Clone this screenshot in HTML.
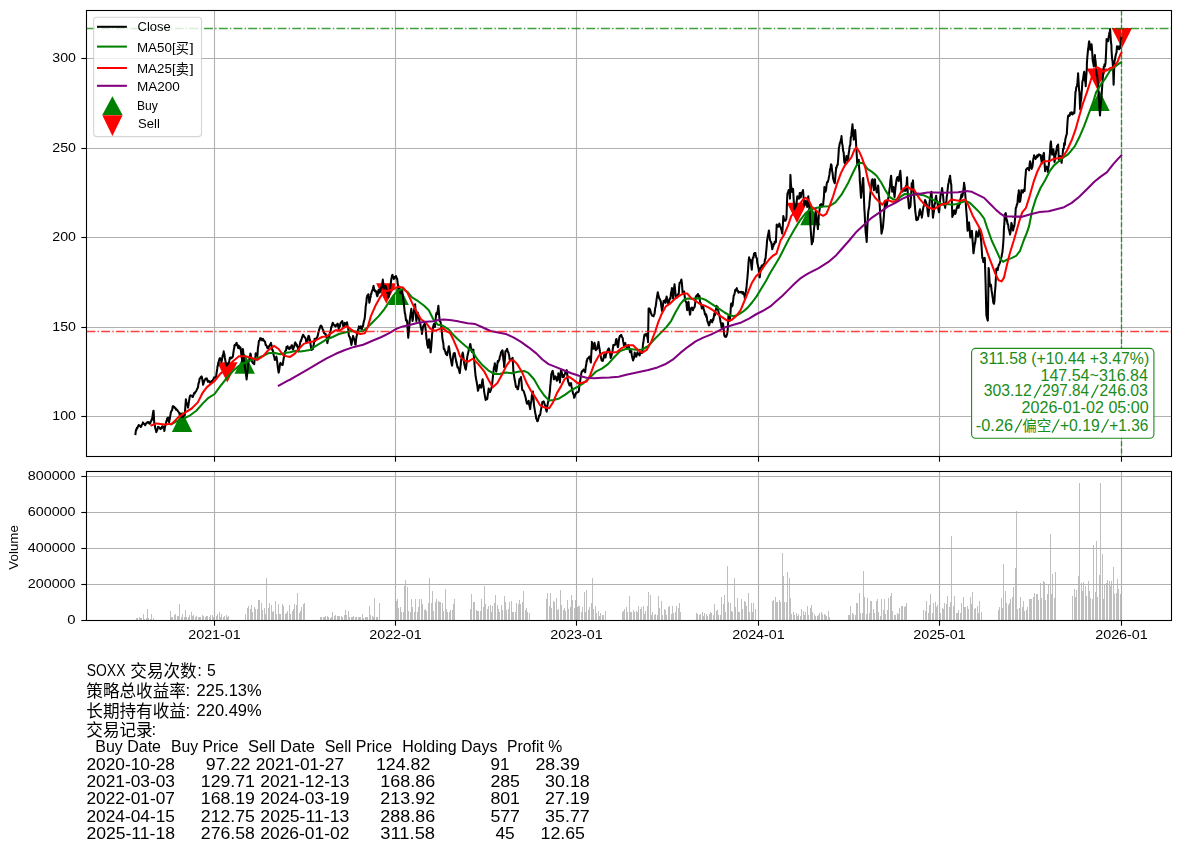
<!DOCTYPE html>
<html><head><meta charset="utf-8"><title>SOXX</title>
<style>html,body{margin:0;padding:0;background:#fff;}svg{display:block;}text{font-family:"Liberation Sans", sans-serif;}.k{filter:grayscale(1);}.cj{font-family:"Liberation Sans", "Noto Sans CJK SC", sans-serif;}</style></head><body>
<svg width="1180" height="852" viewBox="0 0 1180 852">
<rect width="1180" height="852" fill="#fff"/>
<g>
<path d="M182.1 411.6 L171.9 432.0 L192.3 432.0 Z" fill="#008000"/>
<path d="M244.7 353.4 L234.5 373.8 L254.9 373.8 Z" fill="#008000"/>
<path d="M398.7 284.5 L388.5 304.9 L408.9 304.9 Z" fill="#008000"/>
<path d="M810.4 204.8 L800.2 225.2 L820.6 225.2 Z" fill="#008000"/>
<path d="M1099.5 90.5 L1089.3 110.9 L1109.7 110.9 Z" fill="#008000"/>
<path d="M227.3 382.6 L217.1 362.2 L237.5 362.2 Z" fill="#ff0000"/>
<path d="M386.3 303.7 L376.1 283.3 L396.5 283.3 Z" fill="#ff0000"/>
<path d="M797.0 223.1 L786.8 202.7 L807.2 202.7 Z" fill="#ff0000"/>
<path d="M1097.0 88.9 L1086.8 68.5 L1107.2 68.5 Z" fill="#ff0000"/>
<path d="M1121.9 48.3 L1111.7 27.9 L1132.1 27.9 Z" fill="#ff0000"/>
</g>
<g fill="#bfbfbf" shape-rendering="crispEdges">
<rect x="136" y="618.1" width="1" height="2.4"/>
<rect x="137" y="618.4" width="1" height="2.1"/>
<rect x="139" y="617.4" width="1" height="3.1"/>
<rect x="140" y="618.4" width="1" height="2.1"/>
<rect x="141" y="617.7" width="1" height="2.8"/>
<rect x="143" y="613.5" width="1" height="7.0"/>
<rect x="144" y="618.5" width="1" height="2.0"/>
<rect x="146" y="617.7" width="1" height="2.8"/>
<rect x="147" y="608.5" width="1" height="12.0"/>
<rect x="148" y="617.9" width="1" height="2.6"/>
<rect x="150" y="618.5" width="1" height="2.0"/>
<rect x="151" y="613.5" width="1" height="7.0"/>
<rect x="153" y="617.9" width="1" height="2.6"/>
<rect x="170" y="610.5" width="1" height="10.0"/>
<rect x="171" y="617.3" width="1" height="3.2"/>
<rect x="172" y="617.0" width="1" height="3.5"/>
<rect x="174" y="615.4" width="1" height="5.1"/>
<rect x="175" y="613.8" width="1" height="6.7"/>
<rect x="177" y="615.6" width="1" height="4.9"/>
<rect x="178" y="616.4" width="1" height="4.1"/>
<rect x="179" y="603.5" width="1" height="17.0"/>
<rect x="181" y="617.4" width="1" height="3.1"/>
<rect x="182" y="614.3" width="1" height="6.2"/>
<rect x="184" y="616.8" width="1" height="3.7"/>
<rect x="185" y="609.5" width="1" height="11.0"/>
<rect x="186" y="617.3" width="1" height="3.2"/>
<rect x="188" y="616.7" width="1" height="3.8"/>
<rect x="189" y="614.5" width="1" height="6.0"/>
<rect x="191" y="611.5" width="1" height="9.0"/>
<rect x="192" y="615.6" width="1" height="4.9"/>
<rect x="193" y="615.4" width="1" height="5.1"/>
<rect x="195" y="616.5" width="1" height="4.0"/>
<rect x="196" y="615.8" width="1" height="4.7"/>
<rect x="198" y="617.4" width="1" height="3.1"/>
<rect x="199" y="617.4" width="1" height="3.1"/>
<rect x="200" y="617.1" width="1" height="3.4"/>
<rect x="202" y="615.2" width="1" height="5.3"/>
<rect x="203" y="616.3" width="1" height="4.2"/>
<rect x="205" y="616.7" width="1" height="3.8"/>
<rect x="206" y="615.6" width="1" height="4.9"/>
<rect x="207" y="616.2" width="1" height="4.3"/>
<rect x="209" y="616.8" width="1" height="3.7"/>
<rect x="210" y="614.6" width="1" height="5.9"/>
<rect x="212" y="615.1" width="1" height="5.4"/>
<rect x="213" y="616.9" width="1" height="3.6"/>
<rect x="214" y="615.7" width="1" height="4.8"/>
<rect x="216" y="615.9" width="1" height="4.6"/>
<rect x="217" y="614.2" width="1" height="6.3"/>
<rect x="219" y="612.1" width="1" height="8.4"/>
<rect x="220" y="616.8" width="1" height="3.7"/>
<rect x="221" y="613.6" width="1" height="6.9"/>
<rect x="223" y="617.3" width="1" height="3.2"/>
<rect x="224" y="616.3" width="1" height="4.2"/>
<rect x="226" y="614.8" width="1" height="5.7"/>
<rect x="227" y="617.2" width="1" height="3.3"/>
<rect x="228" y="616.0" width="1" height="4.5"/>
<rect x="245" y="614.4" width="1" height="6.1"/>
<rect x="247" y="607.7" width="1" height="12.8"/>
<rect x="248" y="606.3" width="1" height="14.2"/>
<rect x="250" y="609.0" width="1" height="11.5"/>
<rect x="251" y="604.5" width="1" height="16.0"/>
<rect x="252" y="612.1" width="1" height="8.4"/>
<rect x="254" y="607.3" width="1" height="13.2"/>
<rect x="255" y="608.7" width="1" height="11.8"/>
<rect x="257" y="608.9" width="1" height="11.6"/>
<rect x="258" y="600.0" width="1" height="20.5"/>
<rect x="259" y="600.0" width="1" height="20.5"/>
<rect x="261" y="603.4" width="1" height="17.1"/>
<rect x="262" y="610.3" width="1" height="10.2"/>
<rect x="264" y="607.7" width="1" height="12.8"/>
<rect x="265" y="614.3" width="1" height="6.2"/>
<rect x="266" y="578.0" width="1" height="42.5"/>
<rect x="268" y="608.0" width="1" height="12.5"/>
<rect x="269" y="602.6" width="1" height="17.9"/>
<rect x="271" y="605.4" width="1" height="15.1"/>
<rect x="272" y="612.4" width="1" height="8.1"/>
<rect x="273" y="611.3" width="1" height="9.2"/>
<rect x="275" y="600.9" width="1" height="19.6"/>
<rect x="276" y="614.4" width="1" height="6.1"/>
<rect x="278" y="603.5" width="1" height="17.0"/>
<rect x="279" y="613.5" width="1" height="7.0"/>
<rect x="280" y="613.9" width="1" height="6.6"/>
<rect x="282" y="603.5" width="1" height="17.0"/>
<rect x="283" y="606.2" width="1" height="14.3"/>
<rect x="285" y="613.8" width="1" height="6.7"/>
<rect x="286" y="612.8" width="1" height="7.7"/>
<rect x="287" y="611.3" width="1" height="9.2"/>
<rect x="289" y="604.6" width="1" height="15.9"/>
<rect x="290" y="614.1" width="1" height="6.4"/>
<rect x="292" y="610.6" width="1" height="9.9"/>
<rect x="293" y="609.3" width="1" height="11.2"/>
<rect x="294" y="604.4" width="1" height="16.1"/>
<rect x="296" y="605.4" width="1" height="15.1"/>
<rect x="297" y="593.1" width="1" height="27.4"/>
<rect x="299" y="612.5" width="1" height="8.0"/>
<rect x="300" y="611.0" width="1" height="9.5"/>
<rect x="301" y="607.1" width="1" height="13.4"/>
<rect x="303" y="604.4" width="1" height="16.1"/>
<rect x="304" y="603.2" width="1" height="17.3"/>
<rect x="320" y="617.3" width="1" height="3.2"/>
<rect x="321" y="617.2" width="1" height="3.3"/>
<rect x="323" y="617.1" width="1" height="3.4"/>
<rect x="324" y="617.1" width="1" height="3.4"/>
<rect x="325" y="616.4" width="1" height="4.1"/>
<rect x="327" y="616.1" width="1" height="4.4"/>
<rect x="328" y="617.0" width="1" height="3.5"/>
<rect x="330" y="617.5" width="1" height="3.0"/>
<rect x="331" y="616.6" width="1" height="3.9"/>
<rect x="332" y="612.1" width="1" height="8.4"/>
<rect x="334" y="616.1" width="1" height="4.4"/>
<rect x="335" y="614.7" width="1" height="5.8"/>
<rect x="337" y="615.7" width="1" height="4.8"/>
<rect x="338" y="616.3" width="1" height="4.2"/>
<rect x="339" y="616.0" width="1" height="4.5"/>
<rect x="341" y="615.8" width="1" height="4.7"/>
<rect x="342" y="617.4" width="1" height="3.1"/>
<rect x="344" y="614.9" width="1" height="5.6"/>
<rect x="345" y="609.5" width="1" height="11.0"/>
<rect x="346" y="615.0" width="1" height="5.5"/>
<rect x="348" y="610.5" width="1" height="10.0"/>
<rect x="349" y="616.7" width="1" height="3.8"/>
<rect x="351" y="616.7" width="1" height="3.8"/>
<rect x="352" y="617.4" width="1" height="3.1"/>
<rect x="353" y="615.9" width="1" height="4.6"/>
<rect x="355" y="617.4" width="1" height="3.1"/>
<rect x="356" y="617.4" width="1" height="3.1"/>
<rect x="358" y="617.2" width="1" height="3.3"/>
<rect x="359" y="617.3" width="1" height="3.2"/>
<rect x="360" y="616.8" width="1" height="3.7"/>
<rect x="362" y="613.5" width="1" height="7.0"/>
<rect x="363" y="617.5" width="1" height="3.0"/>
<rect x="365" y="617.3" width="1" height="3.2"/>
<rect x="366" y="617.4" width="1" height="3.1"/>
<rect x="367" y="616.8" width="1" height="3.7"/>
<rect x="369" y="606.0" width="1" height="14.5"/>
<rect x="370" y="615.0" width="1" height="5.5"/>
<rect x="372" y="616.0" width="1" height="4.5"/>
<rect x="373" y="617.3" width="1" height="3.2"/>
<rect x="374" y="598.1" width="1" height="22.4"/>
<rect x="376" y="616.8" width="1" height="3.7"/>
<rect x="377" y="616.8" width="1" height="3.7"/>
<rect x="379" y="603.2" width="1" height="17.3"/>
<rect x="396" y="601.4" width="1" height="19.1"/>
<rect x="397" y="598.6" width="1" height="21.9"/>
<rect x="398" y="607.7" width="1" height="12.8"/>
<rect x="400" y="607.4" width="1" height="13.1"/>
<rect x="401" y="612.0" width="1" height="8.5"/>
<rect x="403" y="611.9" width="1" height="8.6"/>
<rect x="404" y="585.5" width="1" height="35.0"/>
<rect x="405" y="579.5" width="1" height="41.0"/>
<rect x="407" y="587.0" width="1" height="33.5"/>
<rect x="408" y="611.4" width="1" height="9.1"/>
<rect x="410" y="612.4" width="1" height="8.1"/>
<rect x="411" y="599.1" width="1" height="21.4"/>
<rect x="412" y="606.8" width="1" height="13.7"/>
<rect x="414" y="611.5" width="1" height="9.0"/>
<rect x="415" y="599.1" width="1" height="21.4"/>
<rect x="417" y="612.4" width="1" height="8.1"/>
<rect x="418" y="606.8" width="1" height="13.7"/>
<rect x="419" y="598.9" width="1" height="21.6"/>
<rect x="421" y="599.1" width="1" height="21.4"/>
<rect x="422" y="604.1" width="1" height="16.4"/>
<rect x="424" y="610.4" width="1" height="10.1"/>
<rect x="425" y="609.1" width="1" height="11.4"/>
<rect x="426" y="611.4" width="1" height="9.1"/>
<rect x="428" y="602.8" width="1" height="17.7"/>
<rect x="429" y="577.5" width="1" height="43.0"/>
<rect x="431" y="602.6" width="1" height="17.9"/>
<rect x="432" y="591.0" width="1" height="29.5"/>
<rect x="433" y="610.8" width="1" height="9.7"/>
<rect x="435" y="602.0" width="1" height="18.5"/>
<rect x="436" y="598.8" width="1" height="21.7"/>
<rect x="438" y="601.3" width="1" height="19.2"/>
<rect x="439" y="602.1" width="1" height="18.4"/>
<rect x="440" y="601.9" width="1" height="18.6"/>
<rect x="442" y="603.3" width="1" height="17.2"/>
<rect x="443" y="610.7" width="1" height="9.8"/>
<rect x="445" y="588.5" width="1" height="32.0"/>
<rect x="446" y="609.2" width="1" height="11.3"/>
<rect x="447" y="612.4" width="1" height="8.1"/>
<rect x="449" y="612.4" width="1" height="8.1"/>
<rect x="450" y="610.2" width="1" height="10.3"/>
<rect x="452" y="610.4" width="1" height="10.1"/>
<rect x="453" y="604.1" width="1" height="16.4"/>
<rect x="454" y="599.3" width="1" height="21.2"/>
<rect x="470" y="608.9" width="1" height="11.6"/>
<rect x="471" y="593.5" width="1" height="27.0"/>
<rect x="473" y="601.7" width="1" height="18.8"/>
<rect x="474" y="602.2" width="1" height="18.3"/>
<rect x="476" y="609.8" width="1" height="10.7"/>
<rect x="477" y="611.2" width="1" height="9.3"/>
<rect x="478" y="611.1" width="1" height="9.4"/>
<rect x="480" y="611.4" width="1" height="9.1"/>
<rect x="481" y="599.1" width="1" height="21.4"/>
<rect x="483" y="606.8" width="1" height="13.7"/>
<rect x="484" y="586.0" width="1" height="34.5"/>
<rect x="485" y="603.9" width="1" height="16.6"/>
<rect x="487" y="608.6" width="1" height="11.9"/>
<rect x="488" y="606.4" width="1" height="14.1"/>
<rect x="490" y="604.5" width="1" height="16.0"/>
<rect x="491" y="612.2" width="1" height="8.3"/>
<rect x="492" y="606.3" width="1" height="14.2"/>
<rect x="494" y="602.9" width="1" height="17.6"/>
<rect x="495" y="594.5" width="1" height="26.0"/>
<rect x="497" y="605.1" width="1" height="15.4"/>
<rect x="498" y="608.6" width="1" height="11.9"/>
<rect x="499" y="611.5" width="1" height="9.0"/>
<rect x="501" y="604.6" width="1" height="15.9"/>
<rect x="502" y="610.1" width="1" height="10.4"/>
<rect x="504" y="595.5" width="1" height="25.0"/>
<rect x="505" y="601.9" width="1" height="18.6"/>
<rect x="506" y="609.5" width="1" height="11.0"/>
<rect x="508" y="609.4" width="1" height="11.1"/>
<rect x="509" y="602.3" width="1" height="18.2"/>
<rect x="511" y="600.9" width="1" height="19.6"/>
<rect x="512" y="611.6" width="1" height="8.9"/>
<rect x="513" y="611.9" width="1" height="8.6"/>
<rect x="515" y="611.7" width="1" height="8.8"/>
<rect x="516" y="602.9" width="1" height="17.6"/>
<rect x="518" y="604.4" width="1" height="16.1"/>
<rect x="519" y="600.0" width="1" height="20.5"/>
<rect x="520" y="604.1" width="1" height="16.4"/>
<rect x="522" y="601.8" width="1" height="18.7"/>
<rect x="523" y="591.0" width="1" height="29.5"/>
<rect x="525" y="610.0" width="1" height="10.5"/>
<rect x="526" y="607.8" width="1" height="12.7"/>
<rect x="527" y="611.9" width="1" height="8.6"/>
<rect x="529" y="612.5" width="1" height="8.0"/>
<rect x="546" y="599.0" width="1" height="21.5"/>
<rect x="547" y="593.1" width="1" height="27.4"/>
<rect x="549" y="606.2" width="1" height="14.3"/>
<rect x="550" y="593.1" width="1" height="27.4"/>
<rect x="551" y="607.5" width="1" height="13.0"/>
<rect x="553" y="600.8" width="1" height="19.7"/>
<rect x="554" y="601.5" width="1" height="19.0"/>
<rect x="556" y="598.1" width="1" height="22.4"/>
<rect x="557" y="609.6" width="1" height="10.9"/>
<rect x="558" y="609.2" width="1" height="11.3"/>
<rect x="560" y="590.1" width="1" height="30.4"/>
<rect x="561" y="605.3" width="1" height="15.2"/>
<rect x="563" y="609.5" width="1" height="11.0"/>
<rect x="564" y="607.7" width="1" height="12.8"/>
<rect x="565" y="610.7" width="1" height="9.8"/>
<rect x="567" y="600.1" width="1" height="20.4"/>
<rect x="568" y="608.5" width="1" height="12.0"/>
<rect x="570" y="607.1" width="1" height="13.4"/>
<rect x="571" y="595.0" width="1" height="25.5"/>
<rect x="572" y="600.2" width="1" height="20.3"/>
<rect x="574" y="607.6" width="1" height="12.9"/>
<rect x="575" y="600.0" width="1" height="20.5"/>
<rect x="577" y="606.6" width="1" height="13.9"/>
<rect x="578" y="606.1" width="1" height="14.4"/>
<rect x="579" y="606.2" width="1" height="14.3"/>
<rect x="581" y="611.5" width="1" height="9.0"/>
<rect x="582" y="607.4" width="1" height="13.1"/>
<rect x="584" y="592.0" width="1" height="28.5"/>
<rect x="585" y="611.5" width="1" height="9.0"/>
<rect x="586" y="590.1" width="1" height="30.4"/>
<rect x="588" y="610.4" width="1" height="10.1"/>
<rect x="589" y="606.9" width="1" height="13.6"/>
<rect x="591" y="603.2" width="1" height="17.3"/>
<rect x="592" y="578.0" width="1" height="42.5"/>
<rect x="593" y="608.8" width="1" height="11.7"/>
<rect x="595" y="606.3" width="1" height="14.2"/>
<rect x="596" y="613.0" width="1" height="7.5"/>
<rect x="598" y="610.8" width="1" height="9.7"/>
<rect x="599" y="616.2" width="1" height="4.3"/>
<rect x="600" y="612.9" width="1" height="7.6"/>
<rect x="602" y="615.4" width="1" height="5.1"/>
<rect x="603" y="615.2" width="1" height="5.3"/>
<rect x="605" y="610.9" width="1" height="9.6"/>
<rect x="622" y="611.6" width="1" height="8.9"/>
<rect x="623" y="611.0" width="1" height="9.5"/>
<rect x="624" y="608.7" width="1" height="11.8"/>
<rect x="626" y="606.7" width="1" height="13.8"/>
<rect x="627" y="612.3" width="1" height="8.2"/>
<rect x="629" y="596.3" width="1" height="24.2"/>
<rect x="630" y="611.7" width="1" height="8.8"/>
<rect x="631" y="611.6" width="1" height="8.9"/>
<rect x="633" y="609.5" width="1" height="11.0"/>
<rect x="634" y="612.2" width="1" height="8.3"/>
<rect x="636" y="611.4" width="1" height="9.1"/>
<rect x="637" y="611.9" width="1" height="8.6"/>
<rect x="638" y="606.3" width="1" height="14.2"/>
<rect x="640" y="609.4" width="1" height="11.1"/>
<rect x="641" y="607.2" width="1" height="13.3"/>
<rect x="643" y="606.3" width="1" height="14.2"/>
<rect x="644" y="614.0" width="1" height="6.5"/>
<rect x="645" y="611.1" width="1" height="9.4"/>
<rect x="647" y="606.3" width="1" height="14.2"/>
<rect x="648" y="592.2" width="1" height="28.3"/>
<rect x="650" y="594.5" width="1" height="26.0"/>
<rect x="651" y="615.0" width="1" height="5.5"/>
<rect x="652" y="612.3" width="1" height="8.2"/>
<rect x="654" y="615.2" width="1" height="5.3"/>
<rect x="655" y="614.1" width="1" height="6.4"/>
<rect x="657" y="615.2" width="1" height="5.3"/>
<rect x="658" y="595.5" width="1" height="25.0"/>
<rect x="659" y="608.4" width="1" height="12.1"/>
<rect x="661" y="600.5" width="1" height="20.0"/>
<rect x="662" y="614.8" width="1" height="5.7"/>
<rect x="664" y="609.2" width="1" height="11.3"/>
<rect x="665" y="609.9" width="1" height="10.6"/>
<rect x="666" y="614.8" width="1" height="5.7"/>
<rect x="668" y="607.1" width="1" height="13.4"/>
<rect x="669" y="606.0" width="1" height="14.5"/>
<rect x="671" y="614.3" width="1" height="6.2"/>
<rect x="672" y="606.2" width="1" height="14.3"/>
<rect x="673" y="612.7" width="1" height="7.8"/>
<rect x="675" y="611.8" width="1" height="8.7"/>
<rect x="676" y="605.6" width="1" height="14.9"/>
<rect x="678" y="607.8" width="1" height="12.7"/>
<rect x="679" y="602.5" width="1" height="18.0"/>
<rect x="680" y="612.4" width="1" height="8.1"/>
<rect x="696" y="613.1" width="1" height="7.4"/>
<rect x="697" y="614.2" width="1" height="6.3"/>
<rect x="699" y="614.9" width="1" height="5.6"/>
<rect x="700" y="614.3" width="1" height="6.2"/>
<rect x="702" y="611.7" width="1" height="8.8"/>
<rect x="703" y="615.5" width="1" height="5.0"/>
<rect x="704" y="612.9" width="1" height="7.6"/>
<rect x="706" y="613.6" width="1" height="6.9"/>
<rect x="707" y="615.5" width="1" height="5.0"/>
<rect x="709" y="614.2" width="1" height="6.3"/>
<rect x="710" y="612.4" width="1" height="8.1"/>
<rect x="711" y="613.1" width="1" height="7.4"/>
<rect x="713" y="615.4" width="1" height="5.1"/>
<rect x="714" y="603.5" width="1" height="17.0"/>
<rect x="716" y="611.2" width="1" height="9.3"/>
<rect x="717" y="609.7" width="1" height="10.8"/>
<rect x="718" y="615.2" width="1" height="5.3"/>
<rect x="720" y="614.6" width="1" height="5.9"/>
<rect x="721" y="597.2" width="1" height="23.3"/>
<rect x="723" y="604.0" width="1" height="16.5"/>
<rect x="724" y="594.5" width="1" height="26.0"/>
<rect x="725" y="611.8" width="1" height="8.7"/>
<rect x="727" y="565.5" width="1" height="55.0"/>
<rect x="728" y="602.0" width="1" height="18.5"/>
<rect x="730" y="603.4" width="1" height="17.1"/>
<rect x="731" y="610.7" width="1" height="9.8"/>
<rect x="732" y="611.7" width="1" height="8.8"/>
<rect x="734" y="578.0" width="1" height="42.5"/>
<rect x="735" y="607.0" width="1" height="13.5"/>
<rect x="737" y="598.1" width="1" height="22.4"/>
<rect x="738" y="612.1" width="1" height="8.4"/>
<rect x="739" y="612.3" width="1" height="8.2"/>
<rect x="741" y="599.1" width="1" height="21.4"/>
<rect x="742" y="608.9" width="1" height="11.6"/>
<rect x="744" y="600.9" width="1" height="19.6"/>
<rect x="745" y="601.5" width="1" height="19.0"/>
<rect x="746" y="606.2" width="1" height="14.3"/>
<rect x="748" y="593.1" width="1" height="27.4"/>
<rect x="749" y="612.1" width="1" height="8.4"/>
<rect x="751" y="602.8" width="1" height="17.7"/>
<rect x="752" y="612.2" width="1" height="8.3"/>
<rect x="753" y="602.7" width="1" height="17.8"/>
<rect x="755" y="608.5" width="1" height="12.0"/>
<rect x="772" y="601.2" width="1" height="19.3"/>
<rect x="773" y="599.9" width="1" height="20.6"/>
<rect x="775" y="597.1" width="1" height="23.4"/>
<rect x="776" y="601.6" width="1" height="18.9"/>
<rect x="777" y="602.2" width="1" height="18.3"/>
<rect x="779" y="600.1" width="1" height="20.4"/>
<rect x="780" y="601.7" width="1" height="18.8"/>
<rect x="782" y="552.5" width="1" height="68.0"/>
<rect x="783" y="575.8" width="1" height="44.7"/>
<rect x="784" y="602.4" width="1" height="18.1"/>
<rect x="786" y="601.9" width="1" height="18.6"/>
<rect x="787" y="572.0" width="1" height="48.5"/>
<rect x="789" y="577.5" width="1" height="43.0"/>
<rect x="790" y="598.4" width="1" height="22.1"/>
<rect x="791" y="613.7" width="1" height="6.8"/>
<rect x="793" y="611.7" width="1" height="8.8"/>
<rect x="794" y="614.6" width="1" height="5.9"/>
<rect x="796" y="613.2" width="1" height="7.3"/>
<rect x="797" y="615.5" width="1" height="5.0"/>
<rect x="798" y="614.1" width="1" height="6.4"/>
<rect x="800" y="615.5" width="1" height="5.0"/>
<rect x="801" y="609.0" width="1" height="11.5"/>
<rect x="803" y="611.2" width="1" height="9.3"/>
<rect x="804" y="614.5" width="1" height="6.0"/>
<rect x="805" y="612.0" width="1" height="8.5"/>
<rect x="807" y="606.4" width="1" height="14.1"/>
<rect x="808" y="615.1" width="1" height="5.4"/>
<rect x="810" y="607.9" width="1" height="12.6"/>
<rect x="811" y="604.5" width="1" height="16.0"/>
<rect x="812" y="611.8" width="1" height="8.7"/>
<rect x="814" y="613.6" width="1" height="6.9"/>
<rect x="815" y="616.1" width="1" height="4.4"/>
<rect x="817" y="615.6" width="1" height="4.9"/>
<rect x="818" y="614.5" width="1" height="6.0"/>
<rect x="819" y="612.6" width="1" height="7.9"/>
<rect x="821" y="611.5" width="1" height="9.0"/>
<rect x="822" y="613.6" width="1" height="6.9"/>
<rect x="824" y="614.4" width="1" height="6.1"/>
<rect x="825" y="614.8" width="1" height="5.7"/>
<rect x="826" y="616.1" width="1" height="4.4"/>
<rect x="828" y="610.5" width="1" height="10.0"/>
<rect x="829" y="617.4" width="1" height="3.1"/>
<rect x="848" y="614.6" width="1" height="5.9"/>
<rect x="849" y="615.1" width="1" height="5.4"/>
<rect x="850" y="605.6" width="1" height="14.9"/>
<rect x="852" y="613.3" width="1" height="7.2"/>
<rect x="853" y="614.3" width="1" height="6.2"/>
<rect x="855" y="615.0" width="1" height="5.5"/>
<rect x="856" y="603.2" width="1" height="17.3"/>
<rect x="857" y="603.1" width="1" height="17.4"/>
<rect x="859" y="593.1" width="1" height="27.4"/>
<rect x="860" y="613.0" width="1" height="7.5"/>
<rect x="862" y="613.4" width="1" height="7.1"/>
<rect x="863" y="571.1" width="1" height="49.4"/>
<rect x="864" y="597.2" width="1" height="23.3"/>
<rect x="866" y="614.4" width="1" height="6.1"/>
<rect x="867" y="598.1" width="1" height="22.4"/>
<rect x="869" y="613.2" width="1" height="7.3"/>
<rect x="870" y="601.3" width="1" height="19.2"/>
<rect x="871" y="601.1" width="1" height="19.4"/>
<rect x="873" y="609.1" width="1" height="11.4"/>
<rect x="874" y="613.4" width="1" height="7.1"/>
<rect x="876" y="601.2" width="1" height="19.3"/>
<rect x="877" y="599.1" width="1" height="21.4"/>
<rect x="878" y="612.0" width="1" height="8.5"/>
<rect x="880" y="615.5" width="1" height="5.0"/>
<rect x="881" y="599.1" width="1" height="21.4"/>
<rect x="883" y="610.2" width="1" height="10.3"/>
<rect x="884" y="599.1" width="1" height="21.4"/>
<rect x="885" y="613.9" width="1" height="6.6"/>
<rect x="887" y="609.7" width="1" height="10.8"/>
<rect x="888" y="598.1" width="1" height="22.4"/>
<rect x="890" y="595.5" width="1" height="25.0"/>
<rect x="891" y="593.1" width="1" height="27.4"/>
<rect x="892" y="611.3" width="1" height="9.2"/>
<rect x="894" y="615.3" width="1" height="5.2"/>
<rect x="895" y="615.4" width="1" height="5.1"/>
<rect x="897" y="612.7" width="1" height="7.8"/>
<rect x="898" y="613.6" width="1" height="6.9"/>
<rect x="899" y="608.4" width="1" height="12.1"/>
<rect x="901" y="606.1" width="1" height="14.4"/>
<rect x="902" y="605.5" width="1" height="15.0"/>
<rect x="904" y="607.2" width="1" height="13.3"/>
<rect x="905" y="606.1" width="1" height="14.4"/>
<rect x="906" y="603.0" width="1" height="17.5"/>
<rect x="923" y="610.0" width="1" height="10.5"/>
<rect x="925" y="610.8" width="1" height="9.7"/>
<rect x="926" y="600.8" width="1" height="19.7"/>
<rect x="928" y="612.6" width="1" height="7.9"/>
<rect x="929" y="605.2" width="1" height="15.3"/>
<rect x="930" y="593.5" width="1" height="27.0"/>
<rect x="932" y="613.3" width="1" height="7.2"/>
<rect x="933" y="603.4" width="1" height="17.1"/>
<rect x="935" y="602.4" width="1" height="18.1"/>
<rect x="936" y="606.7" width="1" height="13.8"/>
<rect x="937" y="605.1" width="1" height="15.4"/>
<rect x="939" y="603.8" width="1" height="16.7"/>
<rect x="940" y="612.7" width="1" height="7.8"/>
<rect x="942" y="608.2" width="1" height="12.3"/>
<rect x="943" y="608.5" width="1" height="12.0"/>
<rect x="944" y="603.4" width="1" height="17.1"/>
<rect x="946" y="603.9" width="1" height="16.6"/>
<rect x="947" y="595.5" width="1" height="25.0"/>
<rect x="949" y="607.4" width="1" height="13.1"/>
<rect x="950" y="602.4" width="1" height="18.1"/>
<rect x="951" y="535.5" width="1" height="85.0"/>
<rect x="953" y="605.7" width="1" height="14.8"/>
<rect x="954" y="595.5" width="1" height="25.0"/>
<rect x="956" y="613.4" width="1" height="7.1"/>
<rect x="957" y="612.7" width="1" height="7.8"/>
<rect x="958" y="610.4" width="1" height="10.1"/>
<rect x="960" y="612.9" width="1" height="7.6"/>
<rect x="961" y="603.4" width="1" height="17.1"/>
<rect x="963" y="596.8" width="1" height="23.7"/>
<rect x="964" y="606.7" width="1" height="13.8"/>
<rect x="965" y="606.7" width="1" height="13.8"/>
<rect x="967" y="605.9" width="1" height="14.6"/>
<rect x="968" y="608.7" width="1" height="11.8"/>
<rect x="970" y="596.8" width="1" height="23.7"/>
<rect x="971" y="604.0" width="1" height="16.5"/>
<rect x="972" y="591.5" width="1" height="29.0"/>
<rect x="974" y="608.5" width="1" height="12.0"/>
<rect x="975" y="608.1" width="1" height="12.4"/>
<rect x="977" y="606.2" width="1" height="14.3"/>
<rect x="978" y="613.2" width="1" height="7.3"/>
<rect x="979" y="600.5" width="1" height="20.0"/>
<rect x="981" y="611.6" width="1" height="8.9"/>
<rect x="998" y="610.0" width="1" height="10.5"/>
<rect x="999" y="607.4" width="1" height="13.1"/>
<rect x="1001" y="597.6" width="1" height="22.9"/>
<rect x="1002" y="608.3" width="1" height="12.2"/>
<rect x="1003" y="563.5" width="1" height="57.0"/>
<rect x="1005" y="591.2" width="1" height="29.3"/>
<rect x="1006" y="603.0" width="1" height="17.5"/>
<rect x="1008" y="605.3" width="1" height="15.2"/>
<rect x="1009" y="603.4" width="1" height="17.1"/>
<rect x="1010" y="598.8" width="1" height="21.7"/>
<rect x="1012" y="596.7" width="1" height="23.8"/>
<rect x="1013" y="586.8" width="1" height="33.7"/>
<rect x="1015" y="567.5" width="1" height="53.0"/>
<rect x="1016" y="510.5" width="1" height="110.0"/>
<rect x="1017" y="609.1" width="1" height="11.4"/>
<rect x="1019" y="607.6" width="1" height="12.9"/>
<rect x="1020" y="597.3" width="1" height="23.2"/>
<rect x="1022" y="606.7" width="1" height="13.8"/>
<rect x="1023" y="601.4" width="1" height="19.1"/>
<rect x="1024" y="610.5" width="1" height="10.0"/>
<rect x="1026" y="610.1" width="1" height="10.4"/>
<rect x="1027" y="607.3" width="1" height="13.2"/>
<rect x="1029" y="599.0" width="1" height="21.5"/>
<rect x="1030" y="598.6" width="1" height="21.9"/>
<rect x="1031" y="598.9" width="1" height="21.6"/>
<rect x="1033" y="597.0" width="1" height="23.5"/>
<rect x="1034" y="592.6" width="1" height="27.9"/>
<rect x="1036" y="593.7" width="1" height="26.8"/>
<rect x="1037" y="593.6" width="1" height="26.9"/>
<rect x="1038" y="599.5" width="1" height="21.0"/>
<rect x="1040" y="582.5" width="1" height="38.0"/>
<rect x="1041" y="598.4" width="1" height="22.1"/>
<rect x="1043" y="581.1" width="1" height="39.4"/>
<rect x="1044" y="582.3" width="1" height="38.2"/>
<rect x="1045" y="600.4" width="1" height="20.1"/>
<rect x="1047" y="593.8" width="1" height="26.7"/>
<rect x="1048" y="585.4" width="1" height="35.1"/>
<rect x="1050" y="533.5" width="1" height="87.0"/>
<rect x="1051" y="594.0" width="1" height="26.5"/>
<rect x="1052" y="573.8" width="1" height="46.7"/>
<rect x="1054" y="598.3" width="1" height="22.2"/>
<rect x="1055" y="571.5" width="1" height="49.0"/>
<rect x="1072" y="596.2" width="1" height="24.3"/>
<rect x="1074" y="589.1" width="1" height="31.4"/>
<rect x="1075" y="597.2" width="1" height="23.3"/>
<rect x="1076" y="590.4" width="1" height="30.1"/>
<rect x="1078" y="575.5" width="1" height="45.0"/>
<rect x="1079" y="482.5" width="1" height="138.0"/>
<rect x="1081" y="583.3" width="1" height="37.2"/>
<rect x="1082" y="590.7" width="1" height="29.8"/>
<rect x="1083" y="581.6" width="1" height="38.9"/>
<rect x="1085" y="586.3" width="1" height="34.2"/>
<rect x="1086" y="595.9" width="1" height="24.6"/>
<rect x="1088" y="581.3" width="1" height="39.2"/>
<rect x="1089" y="591.2" width="1" height="29.3"/>
<rect x="1090" y="598.4" width="1" height="22.1"/>
<rect x="1092" y="598.5" width="1" height="22.0"/>
<rect x="1093" y="544.5" width="1" height="76.0"/>
<rect x="1095" y="591.9" width="1" height="28.6"/>
<rect x="1096" y="540.5" width="1" height="80.0"/>
<rect x="1097" y="597.2" width="1" height="23.3"/>
<rect x="1099" y="574.5" width="1" height="46.0"/>
<rect x="1100" y="482.5" width="1" height="138.0"/>
<rect x="1102" y="553.5" width="1" height="67.0"/>
<rect x="1103" y="598.5" width="1" height="22.0"/>
<rect x="1104" y="585.1" width="1" height="35.4"/>
<rect x="1106" y="582.9" width="1" height="37.6"/>
<rect x="1107" y="579.5" width="1" height="41.0"/>
<rect x="1109" y="580.5" width="1" height="40.0"/>
<rect x="1110" y="586.0" width="1" height="34.5"/>
<rect x="1111" y="581.2" width="1" height="39.3"/>
<rect x="1113" y="566.5" width="1" height="54.0"/>
<rect x="1114" y="593.5" width="1" height="27.0"/>
<rect x="1116" y="593.1" width="1" height="27.4"/>
<rect x="1117" y="578.5" width="1" height="42.0"/>
<rect x="1118" y="589.0" width="1" height="31.5"/>
<rect x="1120" y="593.7" width="1" height="26.8"/>
<rect x="1121" y="592.4" width="1" height="28.1"/>
</g>
<g stroke="#b0b0b0" stroke-width="1.1" fill="none">
<path d="M214.5 10.5 V456.5"/>
<path d="M214.5 471.5 V620.5"/>
<path d="M395.5 10.5 V456.5"/>
<path d="M395.5 471.5 V620.5"/>
<path d="M576.5 10.5 V456.5"/>
<path d="M576.5 471.5 V620.5"/>
<path d="M758.5 10.5 V456.5"/>
<path d="M758.5 471.5 V620.5"/>
<path d="M939.5 10.5 V456.5"/>
<path d="M939.5 471.5 V620.5"/>
<path d="M1121.5 10.5 V456.5"/>
<path d="M1121.5 471.5 V620.5"/>
<path d="M86.5 416.5 H1171.5"/>
<path d="M86.5 327.5 H1171.5"/>
<path d="M86.5 237.5 H1171.5"/>
<path d="M86.5 148.5 H1171.5"/>
<path d="M86.5 58.5 H1171.5"/>
<path d="M86.5 584.5 H1171.5"/>
<path d="M86.5 548.5 H1171.5"/>
<path d="M86.5 512.5 H1171.5"/>
<path d="M86.5 476.5 H1171.5"/>
</g>
<g fill="none" stroke-width="2.05" stroke-linejoin="round" stroke-linecap="butt">
<path d="M135.3 435.2 L135.8 431.4 L136.0 429.8 L136.4 430.0 L136.9 427.7 L137.5 427.9 L138.0 426.2 L138.6 425.2 L139.1 425.7 L139.7 425.5 L140.2 426.2 L140.6 426.8 L140.8 427.0 L141.3 426.3 L141.9 424.7 L142.4 424.1 L142.9 423.0 L143.0 422.4 L143.5 423.4 L144.1 423.9 L144.6 423.9 L145.2 425.3 L145.7 423.5 L146.3 423.7 L146.8 423.0 L147.4 422.1 L147.5 422.2 L147.9 422.5 L148.5 422.0 L149.0 423.2 L149.6 423.7 L149.7 423.7 L150.1 423.6 L150.7 421.7 L151.2 421.0 L151.8 419.1 L152.0 419.9 L152.3 418.0 L152.9 413.6 L153.4 410.8 L153.6 410.8 L154.0 418.2 L154.3 423.7 L154.5 423.1 L155.1 427.3 L155.6 429.4 L156.2 431.3 L156.3 432.1 L156.7 431.2 L157.3 429.7 L157.8 428.4 L158.1 426.8 L158.4 426.9 L158.9 427.2 L159.5 427.7 L160.0 428.1 L160.4 429.1 L160.6 428.9 L161.1 427.9 L161.7 428.5 L162.2 426.2 L162.8 426.2 L163.3 427.3 L163.9 427.6 L164.4 431.0 L164.5 430.1 L165.0 426.7 L165.5 425.4 L166.1 422.6 L166.5 420.7 L166.6 421.6 L167.2 418.2 L167.7 419.0 L168.1 417.6 L168.3 418.0 L168.8 420.8 L169.1 422.2 L169.4 420.5 L169.9 418.4 L170.5 414.3 L171.0 412.0 L171.1 411.5 L171.6 410.7 L172.1 410.4 L172.7 406.3 L173.2 407.6 L173.4 406.2 L173.8 407.2 L174.3 406.8 L174.9 407.9 L175.4 407.9 L176.0 409.8 L176.4 409.2 L176.5 409.5 L177.1 409.9 L177.6 410.6 L178.2 411.4 L178.7 412.3 L179.3 412.8 L179.8 415.8 L180.3 415.3 L180.4 414.2 L180.9 413.7 L181.5 416.5 L182.0 417.0 L182.6 417.8 L183.1 416.7 L183.7 416.1 L184.2 415.6 L184.8 415.3 L184.8 414.6 L185.3 407.5 L185.9 399.3 L186.4 402.6 L187.0 403.7 L187.5 404.8 L187.9 406.9 L188.1 407.6 L188.6 403.9 L189.2 400.2 L189.7 397.0 L190.2 395.5 L190.3 395.8 L190.8 395.4 L191.4 395.6 L191.9 395.8 L192.5 397.0 L193.0 396.8 L193.6 394.8 L194.1 393.1 L194.7 393.5 L195.2 392.1 L195.8 391.7 L196.3 391.0 L196.9 389.2 L197.4 388.4 L197.8 387.9 L198.0 387.1 L198.5 383.5 L199.1 382.1 L199.6 378.7 L200.2 378.2 L200.7 377.3 L201.3 376.7 L201.6 376.4 L201.8 376.9 L202.4 380.0 L202.9 383.3 L203.1 384.8 L203.5 383.4 L204.0 382.2 L204.6 379.9 L205.1 379.8 L205.4 378.7 L205.7 379.0 L206.2 378.7 L206.8 378.4 L207.3 380.6 L207.7 381.0 L207.9 381.9 L208.4 380.8 L209.0 381.3 L209.5 381.5 L210.1 382.7 L210.6 381.8 L210.8 382.5 L211.2 382.8 L211.7 381.1 L212.3 381.3 L212.8 380.0 L213.4 379.1 L213.8 378.7 L213.9 377.6 L214.5 377.6 L215.0 377.3 L215.6 377.5 L216.1 376.6 L216.7 372.1 L217.2 369.0 L217.6 365.8 L217.8 366.0 L218.3 363.2 L218.9 360.9 L219.4 358.9 L220.0 358.1 L220.5 359.6 L221.1 360.1 L221.4 361.9 L221.6 361.5 L222.2 358.2 L222.7 355.5 L223.3 354.5 L223.7 351.3 L223.8 352.3 L224.4 354.3 L224.9 358.0 L225.5 361.4 L226.0 364.2 L226.6 364.7 L227.1 365.8 L227.5 365.8 L227.7 364.1 L228.2 364.0 L228.8 362.7 L229.3 360.9 L229.9 357.8 L230.4 358.7 L231.0 357.4 L231.5 358.1 L232.1 357.7 L232.6 357.0 L232.9 356.6 L233.2 354.1 L233.7 350.4 L234.3 347.7 L234.4 345.9 L234.8 344.7 L235.4 345.1 L235.9 344.3 L236.5 343.0 L236.7 342.9 L237.0 345.5 L237.6 344.9 L238.1 347.9 L238.7 345.8 L239.0 348.2 L239.2 346.3 L239.8 348.6 L240.3 348.1 L240.5 347.5 L240.9 350.3 L241.4 355.5 L242.0 359.0 L242.0 361.2 L242.5 353.2 L242.8 349.0 L243.1 350.5 L243.6 356.1 L244.2 361.9 L244.3 362.7 L244.7 365.6 L245.3 369.8 L245.8 373.1 L246.4 377.3 L246.6 379.5 L246.9 376.6 L247.5 370.8 L248.0 366.5 L248.1 364.2 L248.6 361.6 L249.1 361.2 L249.7 356.4 L250.2 355.4 L250.4 353.6 L250.8 354.6 L251.3 359.2 L251.9 360.8 L251.9 361.2 L252.4 362.1 L253.0 363.1 L253.5 362.8 L254.1 363.2 L254.2 364.2 L254.6 360.1 L255.2 358.8 L255.7 353.4 L255.8 353.6 L256.3 353.6 L256.8 354.6 L257.3 355.1 L257.4 356.0 L257.9 348.2 L258.5 344.8 L258.8 341.4 L259.0 340.8 L259.6 340.8 L260.1 338.2 L260.7 338.6 L261.1 338.3 L261.2 339.1 L261.8 340.0 L262.3 340.4 L262.9 338.8 L263.4 339.9 L264.0 340.9 L264.5 340.9 L265.1 342.0 L265.6 344.9 L265.7 344.4 L266.2 345.4 L266.7 346.0 L267.3 348.0 L267.8 347.2 L268.0 348.2 L268.4 348.0 L268.9 346.6 L269.5 345.6 L270.0 345.0 L270.6 343.8 L271.0 342.9 L271.1 343.5 L271.7 346.0 L272.2 349.8 L272.5 349.7 L272.8 350.4 L273.3 353.8 L273.9 355.9 L274.4 357.5 L274.8 359.7 L275.0 360.0 L275.5 357.7 L276.1 358.1 L276.4 356.6 L276.6 357.7 L277.2 361.8 L277.7 366.3 L278.3 370.5 L278.6 372.6 L278.8 372.3 L279.4 369.0 L279.9 364.9 L280.2 363.5 L280.5 362.9 L281.0 364.4 L281.6 364.6 L282.1 364.0 L282.5 365.0 L282.7 364.8 L283.2 361.4 L283.8 357.8 L284.3 356.1 L284.7 353.6 L284.9 352.2 L285.4 350.9 L286.0 350.3 L286.5 347.0 L287.1 346.7 L287.6 346.2 L288.2 348.4 L288.7 347.8 L289.3 349.1 L289.3 349.0 L289.8 347.4 L290.0 348.5 L290.4 347.5 L290.9 347.4 L291.5 345.9 L291.5 345.4 L292.0 345.2 L292.6 348.7 L293.1 349.2 L293.1 349.8 L293.7 347.1 L294.2 346.9 L294.8 343.3 L295.3 342.4 L295.9 344.0 L296.4 345.0 L296.9 344.7 L297.0 346.1 L297.5 346.7 L298.1 348.6 L298.4 351.5 L298.6 350.8 L299.2 346.8 L299.7 345.3 L300.3 341.8 L300.7 340.8 L300.8 341.4 L301.4 339.7 L301.9 338.0 L302.5 336.1 L303.0 334.8 L303.6 335.3 L304.1 336.6 L304.7 337.2 L305.3 337.8 L305.8 338.9 L306.3 342.5 L306.8 342.4 L306.9 342.3 L307.4 341.0 L308.0 338.8 L308.3 336.3 L308.5 335.9 L309.1 336.4 L309.6 339.9 L309.8 339.3 L310.2 341.3 L310.7 345.5 L311.3 349.1 L311.4 350.0 L311.8 349.9 L312.4 348.6 L312.9 349.0 L313.5 345.7 L314.0 343.0 L314.4 340.8 L314.6 338.9 L315.1 341.1 L315.7 340.3 L316.2 338.2 L316.7 339.3 L316.8 338.5 L317.3 336.9 L317.9 335.2 L318.4 332.5 L319.0 330.2 L319.5 329.0 L320.1 326.9 L320.6 325.9 L321.0 325.6 L321.2 326.5 L321.7 326.3 L322.3 328.4 L322.8 329.5 L323.4 330.8 L323.9 332.8 L324.3 333.2 L324.5 333.2 L325.0 333.9 L325.6 334.0 L325.8 334.7 L326.1 335.7 L326.7 337.9 L327.2 341.8 L327.4 343.1 L327.8 340.8 L328.3 338.4 L328.9 337.6 L329.4 335.7 L330.0 332.5 L330.5 331.4 L331.1 328.5 L331.2 327.1 L331.6 327.1 L332.2 324.6 L332.7 322.7 L333.0 323.3 L333.3 324.1 L333.8 324.5 L334.4 325.5 L334.9 325.8 L335.0 325.6 L335.5 326.5 L336.0 325.0 L336.6 325.6 L337.1 324.1 L337.3 324.8 L337.7 323.6 L338.2 326.3 L338.8 329.0 L338.8 327.9 L339.3 325.3 L339.9 326.3 L340.4 323.6 L341.0 322.5 L341.1 322.5 L341.5 322.0 L342.1 321.4 L342.2 321.0 L342.6 322.4 L343.2 326.0 L343.4 327.1 L343.7 326.7 L344.3 325.7 L344.8 322.9 L344.9 323.3 L345.4 324.4 L345.9 324.5 L346.5 324.7 L346.7 322.5 L347.0 322.4 L347.6 325.7 L348.0 327.1 L348.1 326.9 L348.7 334.3 L348.7 334.7 L349.2 336.6 L349.8 336.9 L350.3 339.3 L350.3 338.2 L350.9 342.1 L351.4 344.9 L351.5 344.7 L352.0 341.6 L352.5 339.3 L352.8 337.8 L353.1 335.9 L353.6 338.0 L354.2 339.2 L354.4 339.3 L354.7 340.9 L355.3 344.5 L355.6 344.7 L355.8 342.2 L356.4 337.1 L356.9 335.2 L357.1 333.2 L357.5 331.5 L358.0 330.1 L358.6 328.4 L358.9 326.4 L359.1 327.0 L359.7 328.1 L360.2 328.5 L360.8 326.3 L360.9 327.9 L361.3 327.6 L361.9 329.1 L362.4 326.8 L362.5 327.1 L363.0 326.0 L363.5 323.0 L364.1 320.6 L364.4 319.5 L364.6 319.2 L365.2 313.3 L365.7 306.6 L365.8 305.8 L366.3 303.3 L366.8 297.1 L367.0 296.6 L367.4 295.3 L367.9 295.8 L368.3 294.3 L368.5 295.9 L369.0 299.2 L369.3 302.7 L369.6 301.8 L370.1 298.7 L370.7 296.6 L370.8 294.3 L371.2 294.3 L371.8 291.8 L372.3 290.2 L372.4 290.5 L372.9 288.6 L373.4 286.4 L373.6 285.9 L374.0 288.6 L374.5 290.7 L374.7 289.7 L375.1 291.4 L375.6 291.0 L376.2 291.3 L376.7 294.7 L377.3 296.3 L377.8 294.4 L378.4 290.1 L378.8 289.7 L378.9 289.7 L379.5 292.8 L380.0 291.8 L380.6 289.2 L381.1 288.2 L381.5 286.7 L381.7 287.5 L382.2 284.3 L382.8 279.6 L383.3 284.2 L383.9 288.8 L384.4 286.9 L385.0 286.7 L385.3 285.9 L385.5 286.2 L386.1 287.1 L386.6 289.8 L386.9 291.3 L387.2 292.2 L387.7 293.8 L388.3 295.8 L388.4 297.4 L388.8 295.9 L389.4 293.8 L389.9 289.0 L390.5 284.8 L391.0 281.8 L391.4 278.3 L391.6 277.7 L392.1 275.4 L392.5 274.8 L392.7 276.7 L393.2 276.7 L393.8 279.1 L394.3 278.1 L394.9 276.9 L394.9 277.5 L395.4 276.7 L396.0 276.7 L396.0 276.0 L396.5 278.5 L397.1 278.3 L397.6 282.7 L398.0 285.9 L398.2 285.3 L398.7 288.4 L399.1 289.7 L399.3 289.2 L399.8 291.1 L400.4 293.2 L400.6 292.8 L400.9 292.5 L401.5 291.3 L402.0 290.0 L402.1 290.5 L402.6 294.0 L403.1 298.5 L403.7 302.0 L404.2 307.1 L404.8 312.9 L405.3 314.5 L405.9 319.3 L405.9 320.3 L406.4 319.5 L407.0 322.2 L407.2 321.0 L407.5 327.1 L408.1 335.6 L408.2 337.8 L408.6 333.9 L409.2 327.8 L409.7 321.0 L410.3 315.6 L410.8 312.8 L411.3 308.8 L411.4 310.2 L411.9 313.9 L412.5 321.0 L413.0 318.2 L413.6 312.6 L413.9 311.9 L414.1 309.9 L414.7 306.7 L415.1 304.2 L415.2 305.4 L415.8 313.8 L416.3 321.0 L416.9 317.8 L417.4 315.2 L417.8 312.6 L418.0 313.9 L418.5 316.4 L419.1 319.1 L419.4 321.0 L419.6 322.6 L420.2 322.5 L420.7 327.2 L420.9 327.1 L421.3 329.3 L421.8 332.0 L421.9 334.0 L422.4 331.4 L422.9 327.2 L423.5 325.6 L424.0 324.8 L424.6 323.9 L425.0 324.1 L425.1 325.7 L425.7 329.9 L426.2 335.0 L426.5 339.3 L426.8 339.8 L427.3 345.0 L427.9 346.7 L428.1 347.7 L428.4 344.4 L429.0 339.8 L429.1 339.3 L429.5 341.7 L430.1 347.1 L430.6 352.3 L431.2 346.8 L431.7 340.0 L432.2 333.2 L432.3 332.9 L432.8 328.7 L433.4 325.6 L433.9 324.1 L434.5 325.8 L434.9 327.1 L435.0 326.5 L435.6 320.0 L436.1 314.2 L436.7 312.6 L437.2 314.2 L437.8 310.2 L438.3 306.5 L438.4 305.8 L438.9 312.3 L439.4 317.8 L439.5 321.0 L440.0 321.2 L440.5 321.8 L441.1 325.2 L441.6 329.4 L442.2 335.0 L442.2 336.3 L442.7 340.5 L443.3 343.0 L443.8 349.0 L444.4 348.9 L444.9 351.0 L445.5 351.9 L445.6 353.1 L446.0 354.3 L446.6 352.8 L447.1 355.3 L447.7 352.0 L448.2 350.0 L448.8 346.2 L448.9 346.2 L449.3 349.0 L449.9 353.1 L450.4 357.6 L450.5 357.6 L451.0 360.3 L451.5 363.2 L452.0 365.3 L452.1 365.6 L452.6 360.7 L453.2 356.3 L453.5 354.6 L453.7 353.4 L454.3 354.2 L454.7 353.1 L454.8 353.1 L455.4 357.5 L455.9 360.0 L456.3 362.2 L456.5 362.0 L457.0 365.1 L457.6 367.5 L457.8 366.8 L458.1 367.7 L458.7 368.9 L459.2 370.8 L459.6 372.9 L459.8 373.1 L460.0 371.7 L460.3 368.2 L460.9 362.8 L461.2 359.5 L461.4 359.2 L462.0 356.2 L462.5 353.8 L462.7 352.6 L463.1 354.5 L463.6 358.6 L464.2 363.3 L464.3 364.1 L464.7 365.9 L465.3 368.4 L465.8 369.7 L466.4 365.4 L466.9 360.6 L467.3 356.4 L467.5 355.8 L468.0 353.5 L468.6 351.1 L468.8 348.8 L469.1 348.2 L469.7 346.5 L470.2 344.0 L470.4 344.2 L470.8 346.4 L471.3 348.8 L471.9 351.9 L472.4 350.5 L473.0 350.7 L473.4 349.6 L473.5 352.7 L474.1 358.5 L474.5 364.1 L474.6 365.4 L475.2 372.0 L475.6 376.3 L475.7 376.7 L476.3 380.2 L476.8 382.8 L477.4 386.3 L477.9 390.3 L478.0 390.8 L478.5 389.3 L479.0 387.2 L479.6 384.9 L480.1 386.5 L480.7 386.4 L481.1 387.7 L481.2 387.4 L481.8 383.6 L482.3 380.8 L482.6 379.3 L482.9 382.1 L483.4 386.3 L484.0 389.4 L484.1 391.5 L484.5 393.6 L485.1 397.0 L485.6 399.9 L486.2 398.0 L486.7 399.3 L487.2 399.2 L487.3 398.4 L487.8 394.9 L488.4 390.8 L488.7 388.5 L488.9 389.0 L489.5 390.2 L490.0 392.1 L490.2 391.5 L490.6 390.8 L491.1 389.2 L491.7 386.9 L491.7 386.9 L492.2 383.5 L492.8 377.6 L493.3 373.2 L493.3 373.4 L493.9 367.7 L494.4 365.9 L494.8 363.3 L495.0 364.2 L495.5 366.9 L496.1 371.3 L496.3 371.7 L496.6 369.9 L497.2 365.6 L497.7 361.5 L497.8 361.0 L498.3 362.0 L498.8 360.6 L499.4 359.5 L499.9 356.4 L500.5 355.6 L500.9 352.6 L501.0 352.9 L501.6 351.4 L502.1 350.7 L502.4 350.3 L502.7 351.3 L503.2 358.2 L503.8 361.9 L504.2 367.1 L504.3 366.9 L504.9 358.7 L505.4 351.3 L505.5 351.1 L506.0 350.9 L506.5 350.2 L507.0 349.6 L507.1 348.8 L507.6 350.8 L508.2 352.4 L508.5 352.6 L508.7 353.7 L509.3 356.4 L509.6 359.5 L509.8 359.4 L510.4 359.1 L510.9 359.7 L511.1 360.3 L511.5 359.8 L512.0 358.9 L512.6 357.9 L512.6 358.0 L513.1 365.3 L513.4 371.7 L513.7 373.6 L514.2 376.6 L514.6 379.3 L514.8 379.8 L515.3 382.9 L515.9 386.9 L516.1 386.9 L516.4 386.4 L517.0 386.8 L517.5 389.2 L518.0 389.2 L518.1 388.1 L518.6 386.0 L519.2 380.8 L519.5 379.3 L519.7 378.7 L520.3 378.8 L520.8 378.0 L521.0 377.0 L521.4 380.9 L521.9 386.8 L522.2 390.0 L522.5 390.1 L523.0 390.3 L523.6 391.0 L524.1 392.5 L524.7 394.4 L525.2 396.1 L525.6 397.6 L525.8 398.5 L526.3 401.0 L526.9 403.5 L527.1 403.7 L527.4 403.1 L528.0 402.0 L528.5 401.2 L528.6 400.7 L529.1 404.7 L529.6 406.1 L530.2 409.1 L530.7 404.0 L531.3 401.5 L531.7 397.6 L531.8 396.1 L532.4 393.6 L532.9 391.5 L533.5 398.4 L534.0 405.5 L534.6 408.9 L535.1 412.1 L535.5 414.4 L535.7 414.7 L536.2 418.6 L536.8 419.3 L537.3 421.3 L537.9 420.9 L538.4 418.5 L539.0 416.5 L539.0 415.9 L539.5 415.2 L540.1 415.0 L540.5 412.9 L540.6 411.8 L541.2 408.6 L541.7 406.0 L542.1 403.7 L542.3 402.1 L542.8 402.1 L543.4 402.5 L543.6 401.4 L543.9 401.9 L544.5 403.7 L545.0 405.4 L545.1 405.3 L545.6 406.5 L546.1 409.9 L546.7 411.6 L547.2 407.0 L547.8 403.4 L548.3 401.3 L548.9 398.9 L549.2 397.6 L549.4 395.3 L550.0 390.1 L550.3 385.4 L550.5 383.9 L551.1 377.1 L551.2 374.7 L551.6 373.7 L552.2 371.6 L552.7 370.9 L553.3 374.1 L553.8 379.3 L554.4 378.9 L554.9 377.8 L555.3 376.3 L555.5 376.6 L556.0 378.0 L556.6 380.0 L556.9 380.8 L557.1 379.7 L557.7 377.3 L558.2 375.2 L558.4 373.2 L558.8 374.9 L559.3 380.2 L559.9 380.5 L559.9 382.4 L560.4 375.5 L561.0 370.2 L561.5 371.2 L562.1 373.7 L562.5 375.5 L562.6 377.1 L563.2 375.3 L563.7 376.9 L564.0 376.3 L564.3 375.3 L564.8 374.0 L565.3 372.5 L565.4 371.6 L565.9 373.1 L566.5 370.6 L566.8 370.2 L567.0 371.7 L567.6 378.6 L568.0 380.8 L568.1 381.3 L568.7 383.1 L569.2 384.4 L569.5 385.4 L569.8 384.5 L570.3 383.2 L570.9 383.3 L571.1 383.1 L571.4 386.2 L572.0 388.4 L572.5 391.0 L572.6 391.5 L573.1 393.8 L573.6 394.3 L574.2 397.7 L574.4 397.6 L574.7 396.7 L575.3 394.5 L575.8 393.9 L575.9 393.1 L576.4 393.2 L576.9 392.3 L577.5 392.3 L578.0 392.1 L578.6 391.6 L579.0 390.0 L579.1 388.4 L579.7 382.3 L580.2 380.8 L580.8 376.4 L581.3 373.5 L581.7 371.7 L581.9 371.9 L582.4 370.7 L583.0 371.2 L583.3 370.2 L583.5 369.5 L584.1 370.7 L584.6 370.4 L585.1 371.7 L585.2 372.3 L585.7 367.2 L586.3 364.3 L586.6 361.0 L586.8 361.7 L587.4 358.6 L587.9 358.3 L588.1 358.0 L588.5 358.2 L589.0 357.1 L589.6 356.4 L589.7 356.4 L590.1 359.3 L590.7 362.1 L590.9 362.5 L591.2 355.9 L591.8 345.6 L591.9 341.9 L592.3 344.1 L592.9 346.2 L593.4 348.6 L593.5 348.8 L594.0 345.2 L594.5 342.7 L595.1 345.7 L595.6 349.6 L595.8 350.3 L596.2 349.9 L596.7 349.4 L597.3 348.8 L597.8 345.2 L598.4 343.1 L598.5 341.9 L598.9 345.5 L599.5 348.4 L600.0 351.9 L600.6 355.2 L601.1 358.0 L601.7 360.5 L602.2 359.7 L602.6 361.0 L602.8 360.8 L603.3 359.1 L603.9 356.3 L604.2 354.9 L604.4 354.4 L605.0 354.9 L605.5 357.5 L605.7 356.4 L606.1 354.4 L606.6 353.2 L607.2 351.1 L607.7 350.8 L608.3 348.9 L608.8 348.4 L609.2 349.6 L609.4 350.4 L609.9 352.9 L610.5 356.3 L610.7 358.0 L611.0 357.1 L611.6 355.3 L612.1 352.3 L612.5 351.9 L612.7 349.5 L613.2 346.7 L613.3 345.0 L613.8 344.9 L614.3 345.1 L614.9 344.8 L615.4 344.1 L616.0 339.9 L616.4 338.9 L616.5 338.9 L617.1 343.2 L617.6 346.0 L617.9 347.3 L618.2 346.3 L618.7 341.8 L619.3 337.6 L619.8 336.1 L619.9 336.6 L620.4 335.9 L620.9 335.0 L621.4 335.1 L621.5 336.0 L622.0 337.2 L622.6 337.7 L622.9 339.7 L623.1 341.2 L623.7 343.8 L624.0 345.8 L624.2 345.2 L624.8 345.9 L625.3 343.1 L625.5 344.2 L625.9 345.8 L626.4 346.9 L627.0 345.5 L627.0 347.3 L627.5 346.7 L628.1 346.1 L628.6 345.1 L629.2 347.9 L629.7 350.2 L630.0 352.1 L630.3 352.3 L630.8 352.1 L631.4 351.1 L631.5 352.9 L631.9 355.7 L632.5 358.2 L633.1 360.5 L633.6 358.9 L634.1 357.3 L634.6 353.6 L634.7 352.6 L635.2 354.6 L635.8 355.6 L636.1 356.7 L636.3 356.6 L636.9 354.6 L637.4 352.3 L637.6 352.9 L638.0 354.2 L638.5 353.5 L639.1 354.9 L639.2 354.4 L639.6 355.5 L640.2 352.3 L640.7 351.8 L641.3 353.1 L641.8 352.6 L642.2 352.9 L642.4 351.6 L642.9 345.0 L643.5 341.3 L644.0 337.2 L644.5 334.6 L644.6 334.9 L645.1 335.0 L645.7 335.5 L646.0 335.3 L646.2 333.9 L646.8 334.6 L647.1 334.6 L647.3 337.0 L647.9 340.0 L648.0 342.2 L648.4 320.0 L648.6 308.6 L649.0 308.7 L649.5 308.6 L650.1 311.6 L650.1 309.4 L650.6 311.9 L651.2 313.8 L651.7 314.8 L652.3 315.8 L652.8 315.7 L653.4 316.1 L653.6 316.3 L653.9 315.0 L654.5 314.0 L655.0 310.0 L655.2 307.9 L655.6 307.1 L656.1 303.5 L656.7 298.7 L657.2 295.6 L657.8 292.2 L657.9 292.6 L658.3 294.5 L658.9 297.0 L659.3 298.7 L659.4 298.9 L660.0 299.2 L660.5 301.2 L660.8 301.0 L661.1 304.5 L661.6 307.6 L662.0 310.9 L662.2 310.0 L662.7 307.6 L663.3 302.7 L663.6 301.0 L663.8 300.9 L664.4 302.1 L664.9 300.3 L665.1 302.5 L665.5 302.8 L666.0 298.8 L666.6 297.1 L666.6 296.4 L667.1 299.0 L667.7 301.5 L668.1 303.3 L668.2 301.9 L668.8 303.1 L669.3 300.3 L669.7 298.7 L669.9 298.3 L670.4 298.8 L670.9 294.2 L671.0 292.6 L671.5 291.3 L671.9 288.1 L672.1 288.9 L672.6 292.8 L673.0 298.0 L673.2 298.5 L673.7 290.3 L674.3 287.0 L674.5 284.2 L674.8 286.8 L675.4 292.5 L675.8 296.4 L675.9 295.7 L676.5 298.0 L677.0 297.3 L677.3 297.2 L677.6 295.4 L678.1 294.0 L678.7 294.0 L678.8 293.4 L679.2 286.8 L679.6 282.7 L679.8 283.0 L680.3 282.5 L680.9 281.2 L681.4 279.5 L681.6 281.2 L682.0 284.2 L682.5 291.6 L682.6 292.6 L683.1 291.9 L683.6 293.9 L684.2 291.5 L684.7 296.6 L685.3 300.9 L685.8 301.4 L686.4 302.7 L686.4 302.5 L686.9 308.1 L687.2 310.2 L687.5 308.3 L688.0 305.0 L688.4 301.8 L688.6 302.6 L689.1 309.4 L689.7 312.4 L689.9 314.7 L690.2 314.3 L690.8 308.5 L691.3 308.2 L691.5 307.9 L691.9 307.5 L692.4 309.3 L693.0 310.2 L693.5 308.2 L694.1 307.8 L694.5 307.1 L694.6 307.2 L695.2 303.2 L695.7 297.5 L695.9 296.4 L696.3 297.1 L696.8 295.2 L697.4 295.9 L697.9 294.1 L698.5 296.2 L699.0 297.6 L699.4 295.7 L699.6 296.6 L700.1 302.3 L700.5 304.1 L700.7 303.0 L701.2 304.6 L701.8 308.4 L702.0 306.4 L702.3 306.8 L702.9 308.1 L703.4 307.0 L703.5 308.6 L704.0 310.2 L704.5 311.6 L704.7 313.2 L705.1 314.6 L705.6 313.6 L706.2 316.9 L706.3 314.7 L706.7 316.4 L707.3 320.9 L707.8 322.2 L708.4 323.8 L708.9 325.5 L709.3 324.7 L709.5 324.2 L710.0 321.5 L710.6 321.4 L710.8 320.1 L711.1 321.2 L711.7 321.3 L712.2 322.3 L712.4 321.6 L712.8 319.1 L713.3 319.9 L713.9 316.3 L714.4 313.2 L715.0 315.3 L715.1 313.2 L715.5 310.9 L716.1 309.0 L716.2 307.9 L716.6 305.9 L717.2 306.8 L717.7 307.1 L718.3 311.0 L718.8 313.1 L719.4 315.0 L719.9 318.0 L720.3 320.1 L720.5 321.9 L721.0 323.4 L721.6 327.4 L722.1 324.8 L722.7 323.3 L723.1 323.9 L723.2 324.9 L723.8 330.3 L724.3 335.5 L724.9 336.6 L725.4 335.9 L726.0 336.4 L726.1 336.9 L726.5 336.1 L727.1 333.9 L727.6 331.5 L728.2 321.2 L728.4 316.3 L728.7 315.3 L729.3 318.4 L729.8 319.1 L729.9 320.8 L730.4 313.6 L730.9 306.1 L731.0 304.1 L731.5 303.3 L732.0 306.4 L732.6 305.5 L733.1 301.0 L733.7 295.9 L733.7 295.7 L734.2 295.1 L734.8 292.5 L735.3 289.8 L735.9 290.7 L736.4 288.9 L736.8 288.1 L737.0 289.2 L737.5 290.8 L738.1 290.8 L738.3 292.6 L738.6 292.7 L739.2 292.4 L739.7 292.0 L740.1 291.9 L740.3 292.0 L740.8 292.4 L741.4 291.8 L741.9 292.4 L742.1 292.6 L742.5 293.7 L743.0 292.1 L743.6 293.3 L743.6 293.4 L744.1 294.4 L744.7 296.7 L744.7 298.0 L745.2 294.6 L745.8 291.9 L746.2 288.8 L746.3 289.6 L746.9 282.5 L747.4 278.0 L747.5 276.6 L748.0 270.6 L748.5 262.9 L748.7 260.6 L749.1 257.3 L749.6 260.3 L750.2 260.0 L750.5 259.8 L750.7 260.3 L751.3 265.6 L751.7 269.0 L751.8 269.7 L752.4 261.6 L752.8 258.3 L752.9 257.5 L753.5 257.6 L754.0 253.5 L754.3 254.5 L754.6 253.1 L755.1 253.7 L755.4 253.0 L755.7 254.9 L756.2 257.1 L756.8 258.5 L756.9 258.3 L757.3 263.3 L757.9 265.1 L758.1 266.7 L758.4 267.3 L759.0 272.2 L759.5 276.9 L759.7 277.4 L760.1 274.5 L760.6 267.8 L760.9 267.5 L761.2 267.5 L761.7 265.6 L762.3 265.5 L762.7 265.2 L762.8 266.6 L763.4 264.7 L763.9 263.9 L764.2 264.4 L764.5 263.0 L765.0 259.2 L765.6 258.6 L765.8 255.3 L766.1 252.3 L766.7 246.2 L767.0 241.5 L767.2 239.6 L767.3 239.9 L767.8 236.2 L768.2 234.0 L768.3 234.1 L768.9 230.5 L769.2 232.3 L769.4 235.7 L770.0 239.9 L770.5 241.1 L771.1 242.4 L771.2 242.3 L771.6 244.2 L772.2 248.6 L772.3 249.3 L772.7 247.8 L773.1 244.6 L773.3 246.4 L773.8 243.7 L774.4 244.2 L774.7 241.7 L774.9 242.3 L775.5 241.9 L775.8 242.3 L776.0 239.8 L776.6 226.9 L776.7 224.5 L777.1 225.3 L777.7 226.6 L778.2 226.8 L778.8 226.3 L779.3 223.6 L779.7 224.5 L779.9 226.3 L780.4 227.0 L781.0 228.4 L781.3 229.8 L781.5 229.8 L782.1 233.2 L782.3 233.6 L782.6 228.9 L783.2 218.8 L783.3 216.1 L783.7 217.3 L784.3 220.8 L784.8 220.4 L785.4 220.6 L785.9 219.8 L786.3 219.2 L786.5 216.8 L787.0 201.9 L787.4 194.0 L787.6 193.2 L788.1 191.9 L788.7 190.0 L788.9 190.2 L789.2 191.8 L789.8 195.5 L790.0 198.6 L790.3 182.0 L790.4 174.9 L790.9 183.5 L791.4 189.2 L791.5 191.7 L792.0 191.9 L792.5 188.8 L793.1 189.0 L793.6 198.2 L794.2 207.3 L794.2 208.5 L794.7 209.5 L795.3 207.3 L795.8 208.2 L796.4 204.8 L796.9 199.4 L797.3 196.3 L797.5 198.9 L798.0 196.7 L798.6 196.8 L798.8 197.8 L799.1 198.6 L799.7 193.0 L800.2 192.9 L800.3 194.7 L800.8 197.5 L801.3 193.1 L801.9 193.2 L802.4 192.0 L803.0 190.1 L803.1 190.9 L803.5 196.5 L804.1 202.6 L804.2 205.4 L804.6 204.9 L805.2 202.8 L805.7 201.0 L806.3 201.6 L806.8 203.0 L807.2 206.9 L807.4 204.9 L807.9 198.7 L808.3 196.3 L808.5 198.8 L809.0 202.7 L809.5 210.0 L809.6 210.0 L810.1 220.1 L810.7 229.4 L810.7 229.8 L811.2 236.6 L811.8 244.3 L812.3 241.2 L812.9 241.6 L813.3 237.5 L813.4 237.3 L814.0 229.1 L814.4 225.3 L814.5 225.8 L815.1 217.4 L815.6 211.6 L816.2 213.8 L816.7 219.7 L817.3 223.3 L817.8 228.3 L817.9 229.1 L818.4 221.6 L818.9 214.6 L819.5 210.7 L820.0 206.0 L820.2 204.7 L820.6 206.6 L821.1 204.1 L821.7 205.4 L822.2 206.3 L822.8 205.8 L823.2 204.7 L823.3 202.7 L823.9 197.2 L824.4 187.1 L825.0 190.4 L825.5 191.7 L826.1 189.6 L826.6 184.6 L827.0 182.5 L827.2 182.0 L827.7 182.2 L828.3 180.0 L828.6 178.7 L828.8 177.6 L829.4 174.9 L829.9 170.3 L830.1 168.8 L830.5 168.6 L831.0 164.3 L831.6 165.2 L831.6 165.8 L832.1 171.0 L832.7 173.6 L833.1 178.7 L833.2 178.6 L833.8 180.8 L834.3 182.1 L834.7 183.3 L834.9 182.3 L835.4 176.1 L836.0 169.5 L836.2 167.3 L836.5 168.1 L837.1 165.5 L837.6 164.3 L837.7 165.0 L838.2 159.0 L838.7 151.5 L838.9 147.5 L839.3 146.2 L839.8 143.2 L840.4 141.9 L840.9 139.8 L841.5 137.3 L841.5 136.0 L842.0 142.8 L842.6 145.6 L843.1 150.5 L843.1 150.7 L843.7 152.6 L844.2 161.3 L844.6 162.7 L844.8 163.4 L845.3 160.9 L845.9 158.6 L846.1 158.9 L846.4 156.0 L847.0 160.6 L847.5 159.3 L847.6 160.4 L848.1 159.1 L848.6 154.0 L849.2 150.6 L849.7 146.0 L850.3 145.0 L850.4 142.9 L850.8 137.4 L851.4 136.4 L851.4 133.7 L851.9 130.0 L852.5 124.2 L852.5 125.3 L853.0 130.7 L853.6 136.5 L853.7 139.8 L854.1 138.1 L854.7 133.8 L855.2 130.0 L855.3 131.4 L855.8 138.5 L856.3 147.5 L856.9 157.5 L857.2 164.2 L857.4 164.6 L858.0 163.6 L858.5 160.9 L858.8 159.7 L859.1 167.3 L859.6 172.9 L859.8 180.3 L860.2 184.8 L860.7 193.9 L861.1 197.8 L861.3 194.4 L861.8 190.6 L862.1 187.9 L862.4 185.9 L862.9 178.7 L863.2 178.0 L863.5 184.3 L864.0 200.1 L864.4 210.0 L864.6 212.0 L865.1 223.0 L865.7 232.7 L866.2 236.3 L866.7 242.0 L866.8 239.5 L867.3 228.1 L867.8 217.6 L867.9 216.3 L868.4 210.9 L869.0 207.6 L869.3 205.4 L869.5 202.5 L870.1 196.4 L870.5 191.7 L870.6 191.9 L871.2 187.3 L871.7 181.0 L872.3 179.5 L872.8 179.3 L873.4 184.7 L873.9 190.2 L874.5 185.3 L875.0 179.4 L875.1 182.5 L875.6 186.9 L876.1 189.0 L876.7 192.4 L877.2 190.2 L877.8 187.4 L878.1 185.6 L878.3 187.1 L878.9 195.4 L879.4 200.3 L880.0 209.8 L880.4 217.6 L880.5 217.9 L881.1 227.0 L881.5 233.6 L881.6 233.6 L882.2 230.6 L882.7 228.5 L883.0 226.8 L883.3 222.8 L883.8 217.3 L884.2 211.5 L884.4 209.4 L884.9 205.2 L885.5 200.8 L886.0 203.4 L886.6 206.5 L887.1 203.4 L887.7 199.9 L888.1 199.3 L888.2 198.4 L888.8 195.6 L889.3 191.4 L889.6 188.6 L889.9 186.9 L890.4 180.3 L891.0 176.3 L891.1 175.7 L891.5 180.9 L892.1 189.4 L892.2 191.7 L892.6 190.3 L893.2 188.0 L893.4 187.1 L893.7 189.3 L894.3 194.8 L894.6 197.0 L894.8 194.1 L895.4 188.7 L895.7 185.6 L895.9 184.6 L896.5 180.1 L897.0 177.9 L897.2 178.0 L897.6 177.0 L898.1 178.5 L898.7 180.7 L898.7 181.0 L899.2 177.3 L899.8 173.7 L900.3 170.8 L900.9 178.1 L901.3 187.1 L901.4 189.6 L902.0 191.1 L902.5 191.7 L903.1 190.1 L903.6 189.5 L904.1 189.4 L904.2 189.7 L904.7 190.8 L905.3 190.6 L905.6 190.9 L905.8 186.0 L906.4 187.5 L906.9 180.1 L907.1 177.2 L907.5 186.6 L907.9 196.3 L908.0 196.7 L908.6 203.6 L908.9 207.7 L909.1 208.5 L909.7 206.1 L910.2 207.1 L910.5 205.4 L910.8 200.4 L911.3 192.2 L911.7 183.3 L911.9 183.2 L912.4 184.2 L913.0 180.4 L913.5 190.6 L914.0 194.7 L914.1 196.2 L914.6 202.3 L915.1 208.5 L915.2 210.6 L915.7 214.3 L916.3 219.9 L916.8 220.2 L917.4 219.4 L917.8 217.6 L917.9 219.6 L918.5 216.5 L919.0 215.6 L919.3 211.5 L919.6 211.6 L920.0 209.3 L920.1 210.0 L920.7 212.8 L921.2 214.8 L921.8 216.0 L921.8 217.7 L922.3 214.8 L922.9 209.7 L923.4 207.3 L924.0 205.2 L924.5 202.8 L925.1 200.0 L925.3 200.2 L925.6 201.1 L926.2 202.6 L926.7 205.8 L926.9 204.7 L927.3 208.4 L927.8 212.8 L928.4 216.2 L928.9 210.2 L929.5 203.1 L929.9 199.4 L930.0 198.0 L930.6 197.0 L931.1 193.2 L931.4 191.8 L931.7 195.2 L932.2 204.1 L932.8 215.8 L933.0 217.7 L933.3 214.8 L933.9 211.4 L934.4 205.4 L934.5 204.7 L935.0 203.5 L935.5 198.6 L936.1 195.7 L936.6 200.7 L937.2 201.3 L937.5 203.2 L937.7 204.5 L938.3 208.5 L938.8 211.6 L939.1 212.4 L939.4 209.5 L939.9 201.8 L940.5 196.3 L940.6 195.6 L941.0 193.6 L941.6 191.5 L942.1 188.0 L942.7 193.2 L943.2 196.9 L943.6 201.7 L943.8 202.1 L944.3 205.4 L944.9 205.6 L945.2 207.8 L945.4 205.5 L946.0 203.3 L946.5 200.3 L946.7 197.1 L947.1 194.7 L947.6 189.9 L948.2 184.3 L948.2 184.9 L948.7 182.4 L949.3 178.8 L949.8 177.2 L950.1 175.8 L950.4 178.9 L950.9 182.7 L951.3 184.9 L951.5 191.9 L952.0 205.8 L952.3 216.9 L952.6 214.7 L953.1 215.4 L953.7 212.8 L953.9 210.8 L954.2 210.4 L954.8 212.8 L955.3 212.5 L955.4 213.9 L955.9 211.6 L956.4 209.2 L957.0 207.4 L957.5 205.8 L958.1 206.0 L958.4 207.8 L958.6 207.8 L959.2 204.6 L959.7 204.3 L960.0 201.7 L960.3 199.5 L960.8 198.4 L961.4 194.4 L961.5 197.1 L961.9 197.2 L962.5 195.8 L963.0 192.5 L963.6 188.5 L964.1 182.7 L964.2 184.2 L964.7 187.0 L965.2 193.8 L965.5 197.1 L965.8 203.7 L966.3 210.8 L966.5 213.1 L966.9 217.9 L967.4 228.0 L967.6 230.7 L968.0 229.5 L968.5 226.7 L969.1 222.4 L969.1 223.1 L969.6 228.3 L970.2 236.4 L970.3 237.5 L970.7 236.6 L971.3 233.1 L971.8 233.6 L971.9 230.7 L972.4 238.1 L972.9 245.3 L973.4 252.8 L973.5 253.3 L974.0 249.6 L974.6 245.1 L974.9 242.9 L975.1 243.3 L975.7 238.5 L976.2 233.2 L976.4 231.4 L976.8 233.3 L977.3 235.2 L977.9 236.1 L978.0 236.8 L978.4 235.4 L979.0 231.3 L979.5 229.0 L980.1 233.8 L980.6 235.6 L981.0 239.8 L981.2 241.4 L981.7 248.7 L982.3 258.1 L982.8 258.3 L983.4 262.1 L983.9 261.0 L984.5 257.9 L984.8 258.1 L985.0 263.9 L985.6 283.2 L986.1 304.7 L986.4 315.3 L986.7 316.6 L987.2 318.7 L987.8 320.6 L987.9 319.1 L988.3 292.4 L988.6 268.0 L988.9 269.9 L989.4 278.9 L989.9 286.3 L990.0 286.0 L990.5 285.1 L990.9 284.7 L991.1 285.9 L991.6 290.7 L992.2 294.1 L992.5 296.9 L992.7 297.5 L993.3 302.7 L993.8 303.6 L994.0 303.8 L994.4 301.4 L994.9 292.4 L995.2 289.3 L995.5 285.8 L996.0 275.5 L996.3 268.7 L996.6 270.2 L997.1 268.4 L997.7 270.0 L997.8 269.5 L998.2 267.2 L998.8 264.8 L999.0 264.9 L999.3 264.1 L999.9 262.9 L1000.4 260.6 L1000.5 260.3 L1001.0 258.5 L1001.5 257.0 L1002.1 253.4 L1002.4 252.7 L1002.6 250.3 L1003.2 243.8 L1003.6 237.5 L1003.7 235.1 L1003.9 229.2 L1004.3 224.1 L1004.8 214.7 L1005.4 213.5 L1005.7 213.1 L1005.9 213.9 L1006.5 218.9 L1006.9 221.5 L1007.0 219.9 L1007.6 224.1 L1008.1 224.4 L1008.5 227.6 L1008.7 229.1 L1009.2 230.4 L1009.8 233.4 L1010.0 234.5 L1010.3 233.2 L1010.9 229.9 L1011.4 222.9 L1011.5 223.1 L1012.0 225.3 L1012.5 225.9 L1013.1 230.5 L1013.6 227.5 L1014.2 226.4 L1014.6 223.8 L1014.7 222.2 L1015.3 215.9 L1015.8 208.1 L1016.4 207.0 L1016.9 204.2 L1017.3 204.0 L1017.5 202.8 L1018.0 196.0 L1018.6 193.2 L1018.8 190.3 L1019.1 194.3 L1019.7 201.9 L1019.9 201.7 L1020.2 201.3 L1020.8 196.9 L1021.3 192.2 L1021.4 190.3 L1021.9 192.7 L1022.4 191.7 L1023.0 192.5 L1023.5 189.8 L1024.1 190.9 L1024.5 191.0 L1024.6 190.8 L1025.2 179.7 L1025.7 174.4 L1026.0 169.7 L1026.3 169.4 L1026.8 168.5 L1027.4 168.7 L1027.5 168.1 L1027.9 168.7 L1028.5 168.2 L1029.0 170.2 L1029.1 170.4 L1029.6 164.1 L1030.1 161.3 L1030.7 163.9 L1031.2 167.7 L1031.7 168.9 L1031.8 167.3 L1032.3 167.3 L1032.9 163.0 L1033.2 159.7 L1033.4 159.1 L1034.0 156.2 L1034.1 155.2 L1034.5 156.7 L1035.1 156.7 L1035.6 159.0 L1036.2 157.4 L1036.7 156.8 L1037.2 155.2 L1037.3 157.1 L1037.8 156.4 L1038.4 155.0 L1038.9 155.2 L1039.0 154.4 L1039.5 154.8 L1040.0 155.4 L1040.6 155.0 L1041.1 158.5 L1041.7 161.7 L1041.7 163.6 L1042.2 160.1 L1042.8 155.9 L1043.3 155.0 L1043.9 152.9 L1044.4 161.8 L1045.0 169.1 L1045.1 171.2 L1045.5 169.4 L1046.1 167.9 L1046.6 166.6 L1047.2 167.9 L1047.7 169.6 L1047.8 171.9 L1048.3 168.1 L1048.8 165.0 L1049.4 159.0 L1049.9 153.4 L1050.5 144.0 L1050.9 141.4 L1051.0 142.7 L1051.6 150.0 L1051.9 153.6 L1052.1 154.6 L1052.7 154.2 L1053.2 149.3 L1053.5 149.8 L1053.8 153.5 L1054.3 157.4 L1054.5 162.0 L1054.9 159.6 L1055.4 155.5 L1056.0 153.2 L1056.1 151.4 L1056.5 150.1 L1057.1 145.8 L1057.6 145.9 L1058.1 144.5 L1058.2 146.5 L1058.7 156.1 L1059.1 160.5 L1059.3 159.2 L1059.8 157.3 L1060.4 156.1 L1060.9 160.8 L1061.5 161.9 L1061.6 162.8 L1062.0 159.1 L1062.6 154.9 L1063.1 148.7 L1063.7 148.8 L1064.2 143.0 L1064.8 145.0 L1065.3 139.4 L1065.9 136.9 L1066.4 134.9 L1066.8 134.2 L1067.0 130.5 L1067.5 122.2 L1067.9 117.5 L1068.1 116.2 L1068.6 115.2 L1069.2 116.0 L1069.4 115.9 L1069.7 115.5 L1070.3 112.7 L1070.5 112.9 L1070.8 113.4 L1071.4 112.4 L1071.9 114.3 L1072.5 114.4 L1073.0 112.5 L1073.6 113.7 L1074.1 112.9 L1074.4 112.9 L1074.7 107.7 L1075.2 97.6 L1075.5 91.6 L1075.8 91.5 L1076.3 87.1 L1076.9 86.2 L1077.0 86.3 L1077.4 82.7 L1078.0 75.1 L1078.1 73.3 L1078.5 80.2 L1079.1 90.4 L1079.3 90.8 L1079.6 95.9 L1080.1 109.2 L1080.2 108.9 L1080.7 101.8 L1081.3 98.3 L1081.6 92.4 L1081.8 91.0 L1082.4 81.9 L1082.7 80.2 L1082.9 80.5 L1083.5 75.9 L1084.0 72.4 L1084.2 71.8 L1084.6 75.1 L1085.1 80.6 L1085.7 84.4 L1085.7 86.3 L1086.2 76.8 L1086.8 69.0 L1086.9 63.4 L1087.3 57.5 L1087.9 51.2 L1088.2 48.1 L1088.4 47.8 L1089.0 41.7 L1089.2 41.3 L1089.5 43.1 L1090.1 48.1 L1090.3 49.7 L1090.6 47.0 L1091.2 45.5 L1091.5 44.3 L1091.7 45.3 L1092.3 53.6 L1092.7 60.3 L1092.8 61.1 L1093.4 63.8 L1093.8 66.4 L1093.9 65.8 L1094.5 60.1 L1094.9 55.0 L1095.0 57.6 L1095.6 61.4 L1096.1 69.7 L1096.7 75.2 L1097.2 76.0 L1097.3 77.1 L1097.8 82.3 L1098.3 89.8 L1098.4 90.8 L1098.9 97.5 L1099.4 108.3 L1100.0 115.5 L1100.5 107.8 L1101.0 101.5 L1101.1 101.7 L1101.6 95.4 L1102.2 86.3 L1102.7 79.3 L1103.3 72.7 L1103.4 71.0 L1103.8 66.5 L1104.4 66.0 L1104.5 64.2 L1104.9 66.4 L1105.5 63.3 L1105.6 61.9 L1106.0 54.1 L1106.5 42.0 L1106.6 39.0 L1107.1 41.0 L1107.7 39.4 L1108.0 41.3 L1108.2 41.1 L1108.8 36.2 L1109.1 34.4 L1109.3 33.0 L1109.9 31.2 L1110.1 29.1 L1110.4 33.8 L1111.0 42.3 L1111.4 45.1 L1111.5 49.8 L1112.1 59.0 L1112.1 58.8 L1112.6 61.6 L1113.2 70.3 L1113.6 84.7 L1113.7 83.1 L1114.3 64.2 L1114.4 61.9 L1114.8 60.1 L1115.4 56.8 L1115.9 54.2 L1116.5 52.7 L1117.0 46.2 L1117.2 47.4 L1117.6 48.1 L1118.1 48.7 L1118.7 46.6 L1119.2 49.2 L1119.8 46.7 L1120.2 48.1 L1120.3 46.0 L1120.9 43.0 L1121.3 37.5 L1121.4 37.1 L1121.6 36.7" stroke="#000"/>
<path d="M170.3 424.9 L178.0 420.7 L184.1 418.4 L190.2 415.3 L196.3 410.8 L202.4 403.9 L208.5 397.8 L214.6 394.0 L220.7 385.6 L226.8 378.0 L232.9 371.1 L239.0 365.8 L245.1 362.7 L251.2 360.0 L257.3 358.1 L263.4 355.8 L268.0 353.3 L274.1 352.8 L280.2 354.3 L286.3 352.8 L290.0 352.3 L296.1 350.8 L300.7 351.5 L305.3 350.8 L309.8 350.0 L314.4 346.9 L320.5 343.1 L326.6 339.3 L332.7 337.0 L338.8 334.0 L344.9 332.5 L351.0 330.9 L357.1 331.7 L363.2 330.9 L367.8 327.1 L372.4 322.5 L378.5 316.4 L384.6 308.8 L389.2 301.9 L393.7 295.1 L398.3 290.5 L402.9 289.0 L407.5 292.0 L412.0 297.4 L418.1 301.2 L424.2 305.8 L428.8 310.3 L433.4 319.5 L438.0 324.8 L442.5 325.6 L448.6 329.4 L453.2 334.7 L457.8 339.3 L460.0 341.2 L466.1 346.5 L472.2 351.1 L477.5 359.5 L482.9 365.6 L489.0 370.9 L494.3 374.0 L499.7 374.0 L505.8 372.5 L511.9 373.2 L518.0 371.7 L524.1 370.9 L528.6 373.2 L534.0 379.3 L539.3 388.5 L544.7 396.1 L549.2 400.4 L553.8 399.9 L559.2 398.4 L565.3 394.6 L571.4 390.0 L577.5 386.9 L583.6 383.1 L589.7 377.8 L595.8 371.7 L601.9 368.6 L608.0 364.1 L614.1 357.2 L620.2 351.1 L626.3 348.8 L630.0 349.1 L636.1 349.8 L642.2 349.5 L648.3 346.0 L654.4 339.2 L660.5 333.1 L666.6 326.9 L671.2 320.8 L675.8 311.7 L680.3 304.1 L684.2 299.5 L688.0 298.4 L692.5 298.7 L697.1 298.3 L701.7 298.4 L706.3 300.3 L710.8 303.3 L715.4 306.4 L720.0 309.4 L724.6 312.5 L729.2 315.1 L733.7 316.3 L738.3 314.7 L742.9 311.7 L747.5 307.9 L752.0 302.5 L756.6 296.4 L761.2 288.8 L765.8 281.2 L770.3 272.8 L774.9 265.2 L779.5 257.5 L788.1 240.5 L794.2 229.8 L800.3 219.9 L805.7 213.1 L811.0 209.2 L817.1 207.7 L823.2 206.6 L829.3 206.2 L835.4 202.4 L841.5 194.7 L847.6 184.1 L852.2 174.2 L856.8 165.0 L860.6 162.7 L863.6 163.5 L867.5 168.8 L872.0 171.9 L876.6 175.7 L881.2 182.5 L885.8 190.9 L889.6 197.0 L893.4 199.3 L897.2 200.1 L901.0 196.3 L904.8 194.0 L908.6 194.3 L913.2 194.7 L917.8 194.7 L920.0 194.8 L924.6 195.6 L929.2 197.9 L933.7 200.2 L938.3 202.5 L942.9 204.7 L947.5 204.0 L952.0 204.7 L956.6 204.0 L961.2 202.5 L965.8 200.9 L970.3 203.2 L974.9 207.8 L979.5 212.4 L984.1 218.5 L987.1 227.6 L991.7 240.5 L996.3 250.4 L1000.1 258.8 L1003.1 261.9 L1006.9 259.6 L1011.5 258.1 L1016.1 255.8 L1019.9 251.2 L1023.7 240.5 L1026.8 232.9 L1029.1 226.1 L1032.1 210.8 L1035.9 198.6 L1040.5 188.0 L1045.1 180.3 L1049.7 171.2 L1054.2 165.1 L1058.8 161.3 L1063.4 157.5 L1068.0 154.4 L1070.2 151.8 L1074.7 146.4 L1079.3 137.3 L1083.9 126.6 L1088.5 114.4 L1093.1 102.2 L1096.1 92.4 L1100.7 84.7 L1105.3 78.6 L1109.8 71.0 L1114.4 67.2 L1118.2 64.2 L1122.0 61.9" stroke="#008000"/>
<path d="M150.5 425.7 L156.6 423.4 L164.2 424.5 L171.9 423.7 L178.0 417.6 L184.1 413.1 L191.7 408.5 L197.8 402.4 L202.4 393.2 L206.9 387.1 L214.6 381.0 L220.7 373.4 L226.8 368.8 L232.9 361.2 L239.0 356.3 L245.1 356.3 L251.2 357.8 L257.3 360.0 L263.4 355.8 L268.0 350.5 L274.1 345.9 L278.6 349.0 L283.2 355.1 L287.8 356.6 L290.0 356.9 L294.6 353.8 L299.2 348.5 L303.7 343.9 L308.3 342.4 L312.9 341.6 L317.5 339.3 L322.0 337.0 L326.6 336.3 L331.2 333.2 L335.8 330.2 L340.3 330.2 L344.9 327.1 L347.2 326.4 L351.0 329.4 L355.6 332.5 L360.2 334.0 L364.7 333.2 L367.8 327.1 L370.8 316.4 L375.4 305.8 L380.0 297.4 L384.6 291.3 L389.2 290.5 L393.7 289.0 L398.3 286.7 L402.9 287.5 L407.5 292.8 L412.0 302.7 L416.6 311.9 L421.2 319.5 L425.8 322.5 L430.3 328.6 L434.9 330.9 L438.7 329.4 L442.5 327.9 L447.1 331.7 L450.2 333.2 L453.2 339.3 L457.8 350.0 L460.0 356.4 L463.8 360.3 L467.6 361.8 L473.0 358.7 L478.3 364.1 L484.4 371.7 L489.0 380.8 L492.8 387.3 L497.4 383.1 L501.9 374.7 L506.5 365.6 L510.3 360.3 L513.4 360.3 L517.2 364.1 L521.8 371.7 L526.4 382.4 L530.9 390.8 L535.5 397.6 L540.1 405.3 L544.7 407.5 L549.2 408.3 L553.1 402.2 L556.9 393.1 L560.7 386.9 L564.5 379.3 L568.3 376.3 L572.9 379.3 L577.5 383.1 L581.3 383.1 L586.6 381.6 L590.4 374.7 L594.2 364.1 L598.8 355.7 L603.4 352.6 L608.0 351.9 L612.5 352.6 L617.1 351.9 L621.7 348.1 L626.3 345.8 L630.0 345.3 L633.1 345.3 L637.6 349.8 L642.2 352.6 L646.8 349.8 L651.4 341.4 L655.2 331.5 L658.2 322.4 L662.0 313.2 L665.8 306.4 L670.4 303.3 L675.0 298.7 L679.6 295.7 L683.4 293.4 L687.2 293.4 L691.0 298.0 L695.6 301.0 L700.2 304.1 L704.7 305.6 L709.3 307.9 L713.9 310.9 L718.5 314.7 L723.1 317.8 L727.6 320.8 L731.4 320.1 L736.0 316.3 L740.6 310.2 L744.4 301.0 L748.2 291.9 L752.0 282.7 L755.8 276.6 L759.7 272.8 L764.2 265.9 L768.8 259.8 L772.6 256.0 L776.4 253.7 L780.5 240.5 L784.3 234.4 L788.1 225.3 L791.2 216.1 L795.0 211.5 L798.8 205.4 L802.6 200.1 L805.7 197.8 L808.7 200.1 L811.8 206.9 L815.6 210.0 L819.4 213.8 L823.2 215.8 L826.3 213.8 L829.3 206.9 L833.1 196.3 L836.9 184.1 L840.8 173.4 L844.6 165.8 L848.4 161.2 L851.4 157.4 L854.5 149.7 L856.3 147.5 L859.1 151.3 L862.1 158.1 L865.2 167.3 L868.2 181.0 L871.3 191.7 L875.1 197.8 L878.9 201.6 L882.4 204.7 L885.0 200.8 L888.1 200.1 L891.9 201.6 L895.7 201.6 L898.7 196.3 L902.5 189.4 L907.1 186.4 L910.9 189.4 L914.0 189.4 L917.0 194.7 L920.0 199.4 L924.6 204.7 L929.2 207.8 L933.7 209.3 L938.3 206.3 L942.9 204.0 L947.5 203.2 L951.3 199.4 L955.8 200.2 L960.4 200.9 L965.0 199.4 L968.1 204.7 L972.6 215.4 L977.2 223.8 L981.0 230.7 L984.1 242.9 L987.9 254.2 L991.7 264.2 L995.5 274.1 L998.6 280.2 L1001.6 281.4 L1003.9 277.9 L1006.9 264.9 L1010.0 252.7 L1013.8 240.5 L1019.2 221.5 L1022.2 212.4 L1026.0 207.8 L1029.8 195.6 L1033.6 181.9 L1037.5 171.2 L1041.3 163.6 L1044.3 161.3 L1048.9 161.3 L1053.5 159.0 L1058.1 158.2 L1062.6 157.5 L1067.1 150.3 L1071.7 140.3 L1075.5 129.7 L1079.3 115.9 L1083.1 103.0 L1086.9 92.4 L1090.8 80.2 L1093.8 69.5 L1096.9 67.2 L1099.9 68.7 L1103.0 71.8 L1106.8 70.3 L1110.6 68.0 L1113.6 67.2 L1117.5 61.9 L1120.5 54.2 L1122.0 51.9" stroke="#ff0000"/>
<path d="M277.9 386.1 L287.8 380.6 L290.0 379.7 L299.2 374.4 L308.3 369.1 L317.5 363.7 L326.6 358.4 L335.8 353.8 L344.9 350.0 L354.1 346.9 L363.2 344.7 L372.4 340.8 L381.5 337.0 L389.2 333.2 L396.8 328.6 L402.9 326.4 L410.5 324.8 L418.1 322.8 L425.8 321.8 L433.4 321.3 L439.5 319.8 L444.1 319.5 L451.7 320.3 L457.8 321.3 L460.0 321.8 L467.6 323.2 L475.3 324.1 L482.9 327.5 L490.5 331.0 L498.1 332.5 L505.8 333.9 L513.4 337.4 L521.0 341.9 L528.6 347.3 L536.3 353.4 L542.4 359.5 L548.5 364.1 L556.1 367.1 L563.7 370.2 L571.4 373.2 L579.0 375.8 L586.6 377.8 L594.2 378.3 L601.9 377.8 L609.5 377.5 L618.6 376.7 L626.3 374.7 L648.3 370.0 L657.5 367.4 L665.1 364.3 L672.7 359.7 L680.3 352.9 L688.0 346.8 L695.6 341.4 L703.2 337.6 L710.8 334.6 L718.5 330.8 L726.1 326.9 L733.7 324.7 L741.4 322.4 L749.0 318.6 L756.6 314.0 L764.2 310.2 L770.3 306.4 L776.4 301.0 L782.5 295.7 L788.6 289.6 L794.7 283.5 L800.8 278.1 L805.4 275.1 L809.3 272.8 L818.7 268.1 L828.1 262.2 L836.3 255.2 L840.8 250.0 L849.2 240.5 L856.8 231.4 L864.4 224.5 L872.0 217.6 L879.7 212.3 L887.3 206.9 L894.9 203.1 L902.5 198.6 L910.2 195.5 L917.8 193.5 L920.0 193.8 L927.6 192.5 L935.3 192.5 L942.9 192.8 L950.5 192.5 L958.1 192.2 L965.8 191.0 L971.9 191.8 L978.0 194.8 L984.1 197.9 L990.2 204.0 L996.3 210.1 L1000.0 213.3 L1004.6 216.3 L1012.2 216.6 L1022.9 216.6 L1030.5 214.3 L1039.7 212.0 L1048.8 211.3 L1056.4 209.3 L1064.1 207.2 L1071.7 202.9 L1079.3 196.8 L1086.9 189.2 L1094.6 181.5 L1100.7 176.6 L1106.8 172.4 L1112.9 164.7 L1118.2 158.6 L1122.0 154.8" stroke="#800080"/>
</g>
<path d="M86.5 28.5 H1171.5" stroke="#008000" stroke-opacity="0.75" stroke-width="1.35" stroke-dasharray="8.9 2.2 1.4 2.2" fill="none"/>
<path d="M86.5 331.5 H1171.5" stroke="#ff0000" stroke-opacity="0.75" stroke-width="1.35" stroke-dasharray="8.9 2.2 1.4 2.2" fill="none"/>
<path d="M1121.5 10.5 V456.5" stroke="#008000" stroke-opacity="0.75" stroke-width="1.35" stroke-dasharray="5.1 2.2" fill="none"/>
<g stroke="#000" stroke-width="1.1" fill="none">
<rect x="86.5" y="10.5" width="1085.0" height="446.0"/>
<rect x="86.5" y="471.5" width="1085.0" height="149.0"/>
<path d="M214.5 456.5 v5.2"/>
<path d="M214.5 620.5 v5.2"/>
<path d="M395.5 456.5 v5.2"/>
<path d="M395.5 620.5 v5.2"/>
<path d="M576.5 456.5 v5.2"/>
<path d="M576.5 620.5 v5.2"/>
<path d="M758.5 456.5 v5.2"/>
<path d="M758.5 620.5 v5.2"/>
<path d="M939.5 456.5 v5.2"/>
<path d="M939.5 620.5 v5.2"/>
<path d="M1121.5 456.5 v5.2"/>
<path d="M1121.5 620.5 v5.2"/>
<path d="M86.5 416.5 h-5.2"/>
<path d="M86.5 327.5 h-5.2"/>
<path d="M86.5 237.5 h-5.2"/>
<path d="M86.5 148.5 h-5.2"/>
<path d="M86.5 58.5 h-5.2"/>
<path d="M86.5 620.5 h-5.2"/>
<path d="M86.5 584.5 h-5.2"/>
<path d="M86.5 548.5 h-5.2"/>
<path d="M86.5 512.5 h-5.2"/>
<path d="M86.5 476.5 h-5.2"/>
</g>
<text class="k" x="52.3" y="420.1" font-size="13.00" text-anchor="start" fill="#000" textLength="23.7" lengthAdjust="spacingAndGlyphs">100</text>
<text class="k" x="52.3" y="331.1" font-size="13.00" text-anchor="start" fill="#000" textLength="23.7" lengthAdjust="spacingAndGlyphs">150</text>
<text class="k" x="52.3" y="241.1" font-size="13.00" text-anchor="start" fill="#000" textLength="23.7" lengthAdjust="spacingAndGlyphs">200</text>
<text class="k" x="52.3" y="152.1" font-size="13.00" text-anchor="start" fill="#000" textLength="23.7" lengthAdjust="spacingAndGlyphs">250</text>
<text class="k" x="52.3" y="62.1" font-size="13.00" text-anchor="start" fill="#000" textLength="23.7" lengthAdjust="spacingAndGlyphs">300</text>
<text class="k" x="67.3" y="624.1" font-size="13.00" text-anchor="start" fill="#000" textLength="8.3" lengthAdjust="spacingAndGlyphs">0</text>
<text class="k" x="27.7" y="588.1" font-size="13.00" text-anchor="start" fill="#000" textLength="47.9" lengthAdjust="spacingAndGlyphs">200000</text>
<text class="k" x="27.7" y="552.1" font-size="13.00" text-anchor="start" fill="#000" textLength="47.9" lengthAdjust="spacingAndGlyphs">400000</text>
<text class="k" x="27.7" y="516.1" font-size="13.00" text-anchor="start" fill="#000" textLength="47.9" lengthAdjust="spacingAndGlyphs">600000</text>
<text class="k" x="27.7" y="480.1" font-size="13.00" text-anchor="start" fill="#000" textLength="47.9" lengthAdjust="spacingAndGlyphs">800000</text>
<text class="k" x="188.2" y="639.0" font-size="13.00" text-anchor="start" fill="#000" textLength="52.6" lengthAdjust="spacingAndGlyphs">2021-01</text>
<text class="k" x="369.2" y="639.0" font-size="13.00" text-anchor="start" fill="#000" textLength="52.6" lengthAdjust="spacingAndGlyphs">2022-01</text>
<text class="k" x="550.2" y="639.0" font-size="13.00" text-anchor="start" fill="#000" textLength="52.6" lengthAdjust="spacingAndGlyphs">2023-01</text>
<text class="k" x="732.2" y="639.0" font-size="13.00" text-anchor="start" fill="#000" textLength="52.6" lengthAdjust="spacingAndGlyphs">2024-01</text>
<text class="k" x="913.2" y="639.0" font-size="13.00" text-anchor="start" fill="#000" textLength="52.6" lengthAdjust="spacingAndGlyphs">2025-01</text>
<text class="k" x="1095.2" y="639.0" font-size="13.00" text-anchor="start" fill="#000" textLength="52.6" lengthAdjust="spacingAndGlyphs">2026-01</text>
<text transform="translate(18.3 547.4) rotate(-90)" font-size="13.00" text-anchor="middle" fill="#000" class="k" textLength="44.5" lengthAdjust="spacingAndGlyphs">Volume</text>
<rect x="93.6" y="17.3" width="107.9" height="119.3" rx="3" ry="3" fill="#fff" fill-opacity="0.8" stroke="#ccc" stroke-opacity="0.8" stroke-width="1.1"/>
<g stroke-width="2.05" fill="none">
<path d="M97 26.8 H126.9" stroke="#000"/>
<path d="M97 46.6 H126.9" stroke="#008000"/>
<path d="M97 68.0 H126.9" stroke="#ff0000"/>
<path d="M97 85.8 H126.9" stroke="#800080"/>
</g>
<path d="M112.4 96.2 L102.3 115.1 L122.6 115.1 Z" fill="#008000"/>
<path d="M112.4 135.9 L102.3 115.2 L122.6 115.2 Z" fill="#ff0000"/>
<text class="k" x="137.6" y="31.4" font-size="12.00" text-anchor="start" fill="#000" textLength="33.2" lengthAdjust="spacingAndGlyphs">Close</text>
<text class="k" x="137.0" y="51.5" font-size="12.00" text-anchor="start" fill="#000" textLength="38.6" lengthAdjust="spacingAndGlyphs">MA50[</text>
<text class="k cj" x="175.8" y="52.6" font-size="13.2" text-anchor="start" fill="#000">买</text>
<text class="k" x="189.6" y="51.5" font-size="12.00" text-anchor="start" fill="#000" textLength="4.2" lengthAdjust="spacingAndGlyphs">]</text>
<text class="k" x="137.0" y="72.6" font-size="12.00" text-anchor="start" fill="#000" textLength="38.6" lengthAdjust="spacingAndGlyphs">MA25[</text>
<text class="k cj" x="175.8" y="73.7" font-size="13.2" text-anchor="start" fill="#000">卖</text>
<text class="k" x="189.6" y="72.6" font-size="12.00" text-anchor="start" fill="#000" textLength="4.2" lengthAdjust="spacingAndGlyphs">]</text>
<text class="k" x="137.0" y="91.2" font-size="12.00" text-anchor="start" fill="#000" textLength="42.9" lengthAdjust="spacingAndGlyphs">MA200</text>
<text class="k" x="137.0" y="109.5" font-size="12.00" text-anchor="start" fill="#000" textLength="20.8" lengthAdjust="spacingAndGlyphs">Buy</text>
<text class="k" x="138.0" y="128.2" font-size="12.00" text-anchor="start" fill="#000" textLength="21.8" lengthAdjust="spacingAndGlyphs">Sell</text>
<rect x="971.6" y="348.4" width="182.3" height="89.8" rx="4" ry="4" fill="#fff" fill-opacity="0.9" stroke="#1a8c1a" stroke-width="1.1"/>
<text x="979.6" y="363.9" font-size="15.80" text-anchor="start" fill="#1a8c1a" textLength="169.6" lengthAdjust="spacingAndGlyphs">311.58 (+10.44 +3.47%)</text>
<text x="1040.5" y="380.6" font-size="15.80" text-anchor="start" fill="#1a8c1a" textLength="107.4" lengthAdjust="spacingAndGlyphs">147.54~316.84</text>
<text x="983.7" y="396.3" font-size="15.80" text-anchor="start" fill="#1a8c1a" textLength="48.1" lengthAdjust="spacingAndGlyphs">303.12</text>
<path d="M1034.2 398.1 L1041.2 384.7" stroke="#1a8c1a" stroke-width="1.25" fill="none"/>
<text x="1042.3" y="396.3" font-size="15.80" text-anchor="start" fill="#1a8c1a" textLength="46.7" lengthAdjust="spacingAndGlyphs">297.84</text>
<path d="M1091.4 398.1 L1098.4 384.7" stroke="#1a8c1a" stroke-width="1.25" fill="none"/>
<text x="1099.6" y="396.3" font-size="15.80" text-anchor="start" fill="#1a8c1a" textLength="48.3" lengthAdjust="spacingAndGlyphs">246.03</text>
<text x="1021.5" y="412.7" font-size="15.80" text-anchor="start" fill="#1a8c1a" textLength="127.2" lengthAdjust="spacingAndGlyphs">2026-01-02 05:00</text>
<text x="975.8" y="430.8" font-size="15.80" text-anchor="start" fill="#1a8c1a" textLength="37.3" lengthAdjust="spacingAndGlyphs">-0.26</text>
<path d="M1014.9 432.6 L1021.9 419.2" stroke="#1a8c1a" stroke-width="1.25" fill="none"/>
<path d="M1052.2 432.6 L1059.2 419.2" stroke="#1a8c1a" stroke-width="1.25" fill="none"/>
<text x="1059.9" y="430.8" font-size="15.80" text-anchor="start" fill="#1a8c1a" textLength="39.9" lengthAdjust="spacingAndGlyphs">+0.19</text>
<path d="M1101.5 432.6 L1108.5 419.2" stroke="#1a8c1a" stroke-width="1.25" fill="none"/>
<text x="1109.3" y="430.8" font-size="15.80" text-anchor="start" fill="#1a8c1a" textLength="39.0" lengthAdjust="spacingAndGlyphs">+1.36</text>
<text class="cj" x="1022.3" y="431.3" font-size="14.5" text-anchor="start" fill="#1a8c1a" textLength="29.0" lengthAdjust="spacingAndGlyphs">偏空</text>
<text class="k" x="86.8" y="676.2" font-size="16.70" text-anchor="start" fill="#000" textLength="38.6" lengthAdjust="spacingAndGlyphs">SOXX</text>
<text class="k cj" x="130.3" y="676.8" font-size="16.6" text-anchor="start" fill="#000" textLength="66.4" lengthAdjust="spacingAndGlyphs">交易次数</text>
<text class="k" x="197.3" y="676.2" font-size="16.70" text-anchor="start" fill="#000">:</text>
<text class="k" x="207.1" y="676.2" font-size="16.70" text-anchor="start" fill="#000" textLength="8.8" lengthAdjust="spacingAndGlyphs">5</text>
<text class="k cj" x="86.3" y="696.7" font-size="16.6" text-anchor="start" fill="#000" textLength="99.6" lengthAdjust="spacingAndGlyphs">策略总收益率</text>
<text class="k" x="185.5" y="695.7" font-size="16.70" text-anchor="start" fill="#000">:</text>
<text class="k" x="196.6" y="695.7" font-size="16.70" text-anchor="start" fill="#000" textLength="65.1" lengthAdjust="spacingAndGlyphs">225.13%</text>
<text class="k cj" x="86.3" y="716.7" font-size="16.6" text-anchor="start" fill="#000" textLength="99.6" lengthAdjust="spacingAndGlyphs">长期持有收益</text>
<text class="k" x="185.5" y="715.7" font-size="16.70" text-anchor="start" fill="#000">:</text>
<text class="k" x="196.6" y="715.7" font-size="16.70" text-anchor="start" fill="#000" textLength="65.1" lengthAdjust="spacingAndGlyphs">220.49%</text>
<text class="k cj" x="86.3" y="735.8" font-size="16.6" text-anchor="start" fill="#000" textLength="66.4" lengthAdjust="spacingAndGlyphs">交易记录</text>
<text class="k" x="151.5" y="734.7" font-size="16.70" text-anchor="start" fill="#000">:</text>
<text class="k" x="95.3" y="751.5" font-size="16.30" text-anchor="start" fill="#000" textLength="65.7" lengthAdjust="spacingAndGlyphs">Buy Date</text>
<text class="k" x="171.0" y="751.5" font-size="16.30" text-anchor="start" fill="#000" textLength="67.4" lengthAdjust="spacingAndGlyphs">Buy Price</text>
<text class="k" x="247.9" y="751.5" font-size="16.30" text-anchor="start" fill="#000" textLength="67.2" lengthAdjust="spacingAndGlyphs">Sell Date</text>
<text class="k" x="324.7" y="751.5" font-size="16.30" text-anchor="start" fill="#000" textLength="67.6" lengthAdjust="spacingAndGlyphs">Sell Price</text>
<text class="k" x="402.3" y="751.5" font-size="16.30" text-anchor="start" fill="#000" textLength="95.2" lengthAdjust="spacingAndGlyphs">Holding Days</text>
<text class="k" x="507.0" y="751.5" font-size="16.30" text-anchor="start" fill="#000" textLength="55.2" lengthAdjust="spacingAndGlyphs">Profit %</text>
<text class="k" x="86.4" y="769.7" font-size="16.70" text-anchor="start" fill="#000" textLength="88.6" lengthAdjust="spacingAndGlyphs">2020-10-28</text>
<text class="k" x="205.8" y="769.7" font-size="16.70" text-anchor="start" fill="#000" textLength="44.5" lengthAdjust="spacingAndGlyphs">97.22</text>
<text class="k" x="255.7" y="769.7" font-size="16.70" text-anchor="start" fill="#000" textLength="88.4" lengthAdjust="spacingAndGlyphs">2021-01-27</text>
<text class="k" x="376.0" y="769.7" font-size="16.70" text-anchor="start" fill="#000" textLength="54.3" lengthAdjust="spacingAndGlyphs">124.82</text>
<text class="k" x="490.4" y="769.7" font-size="16.70" text-anchor="start" fill="#000" textLength="19.0" lengthAdjust="spacingAndGlyphs">91</text>
<text class="k" x="535.4" y="769.7" font-size="16.70" text-anchor="start" fill="#000" textLength="44.5" lengthAdjust="spacingAndGlyphs">28.39</text>
<text class="k" x="86.4" y="786.8" font-size="16.70" text-anchor="start" fill="#000" textLength="88.6" lengthAdjust="spacingAndGlyphs">2021-03-03</text>
<text class="k" x="200.8" y="786.8" font-size="16.70" text-anchor="start" fill="#000" textLength="54.1" lengthAdjust="spacingAndGlyphs">129.71</text>
<text class="k" x="260.3" y="786.8" font-size="16.70" text-anchor="start" fill="#000" textLength="89.1" lengthAdjust="spacingAndGlyphs">2021-12-13</text>
<text class="k" x="380.3" y="786.8" font-size="16.70" text-anchor="start" fill="#000" textLength="54.8" lengthAdjust="spacingAndGlyphs">168.86</text>
<text class="k" x="490.4" y="786.8" font-size="16.70" text-anchor="start" fill="#000" textLength="29.6" lengthAdjust="spacingAndGlyphs">285</text>
<text class="k" x="545.1" y="786.8" font-size="16.70" text-anchor="start" fill="#000" textLength="44.7" lengthAdjust="spacingAndGlyphs">30.18</text>
<text class="k" x="86.4" y="803.9" font-size="16.70" text-anchor="start" fill="#000" textLength="88.6" lengthAdjust="spacingAndGlyphs">2022-01-07</text>
<text class="k" x="200.8" y="803.9" font-size="16.70" text-anchor="start" fill="#000" textLength="54.1" lengthAdjust="spacingAndGlyphs">168.19</text>
<text class="k" x="260.3" y="803.9" font-size="16.70" text-anchor="start" fill="#000" textLength="89.1" lengthAdjust="spacingAndGlyphs">2024-03-19</text>
<text class="k" x="380.3" y="803.9" font-size="16.70" text-anchor="start" fill="#000" textLength="54.8" lengthAdjust="spacingAndGlyphs">213.92</text>
<text class="k" x="490.4" y="803.9" font-size="16.70" text-anchor="start" fill="#000" textLength="29.6" lengthAdjust="spacingAndGlyphs">801</text>
<text class="k" x="545.1" y="803.9" font-size="16.70" text-anchor="start" fill="#000" textLength="44.7" lengthAdjust="spacingAndGlyphs">27.19</text>
<text class="k" x="86.4" y="821.7" font-size="16.70" text-anchor="start" fill="#000" textLength="88.6" lengthAdjust="spacingAndGlyphs">2024-04-15</text>
<text class="k" x="200.8" y="821.7" font-size="16.70" text-anchor="start" fill="#000" textLength="54.1" lengthAdjust="spacingAndGlyphs">212.75</text>
<text class="k" x="260.3" y="821.7" font-size="16.70" text-anchor="start" fill="#000" textLength="89.1" lengthAdjust="spacingAndGlyphs">2025-11-13</text>
<text class="k" x="380.3" y="821.7" font-size="16.70" text-anchor="start" fill="#000" textLength="54.8" lengthAdjust="spacingAndGlyphs">288.86</text>
<text class="k" x="490.4" y="821.7" font-size="16.70" text-anchor="start" fill="#000" textLength="29.6" lengthAdjust="spacingAndGlyphs">577</text>
<text class="k" x="545.1" y="821.7" font-size="16.70" text-anchor="start" fill="#000" textLength="44.7" lengthAdjust="spacingAndGlyphs">35.77</text>
<text class="k" x="86.4" y="838.6" font-size="16.70" text-anchor="start" fill="#000" textLength="88.6" lengthAdjust="spacingAndGlyphs">2025-11-18</text>
<text class="k" x="200.8" y="838.6" font-size="16.70" text-anchor="start" fill="#000" textLength="54.1" lengthAdjust="spacingAndGlyphs">276.58</text>
<text class="k" x="260.3" y="838.6" font-size="16.70" text-anchor="start" fill="#000" textLength="89.1" lengthAdjust="spacingAndGlyphs">2026-01-02</text>
<text class="k" x="380.3" y="838.6" font-size="16.70" text-anchor="start" fill="#000" textLength="54.8" lengthAdjust="spacingAndGlyphs">311.58</text>
<text class="k" x="495.4" y="838.6" font-size="16.70" text-anchor="start" fill="#000" textLength="19.3" lengthAdjust="spacingAndGlyphs">45</text>
<text class="k" x="540.5" y="838.6" font-size="16.70" text-anchor="start" fill="#000" textLength="44.5" lengthAdjust="spacingAndGlyphs">12.65</text>
</svg></body></html>
